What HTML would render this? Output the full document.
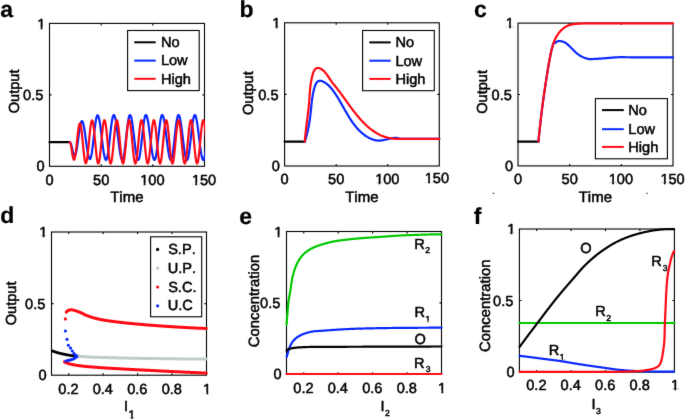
<!DOCTYPE html>
<html><head><meta charset="utf-8"><style>
html,body{margin:0;padding:0;background:#fff;}
svg{display:block;}
text{font-family:"Liberation Sans", sans-serif;font-kerning:none;text-rendering:geometricPrecision;}
</style></head><body>
<svg width="685" height="419" viewBox="0 0 685 419">
<defs><filter id="bl" x="0" y="0" width="685" height="419" filterUnits="userSpaceOnUse" color-interpolation-filters="sRGB"><feConvolveMatrix order="3" kernelMatrix="0.0064 0.0672 0.0064 0.0672 0.7056 0.0672 0.0064 0.0672 0.0064" edgeMode="duplicate"/></filter></defs>
<rect width="685" height="419" fill="#fff"/>
<g filter="url(#bl)">
<text x="0.13" y="17.2" font-size="23" font-weight="bold" fill="#000" stroke="#000" stroke-width="0.2" stroke-linejoin="round">a</text>
<text x="239.38" y="17.3" font-size="23" font-weight="bold" fill="#000" stroke="#000" stroke-width="0.2" stroke-linejoin="round">b</text>
<text x="473.9" y="17.3" font-size="23" font-weight="bold" fill="#000" stroke="#000" stroke-width="0.2" stroke-linejoin="round">c</text>
<text x="0.17" y="223.4" font-size="23" font-weight="bold" fill="#000" stroke="#000" stroke-width="0.2" stroke-linejoin="round">d</text>
<text x="239.3" y="223.7" font-size="23" font-weight="bold" fill="#000" stroke="#000" stroke-width="0.2" stroke-linejoin="round">e</text>
<text x="473.71" y="223.5" font-size="23" font-weight="bold" fill="#000" stroke="#000" stroke-width="0.2" stroke-linejoin="round">f</text>
<rect x="49.5" y="23.4" width="155" height="142.9" fill="none" stroke="#000" stroke-width="1.1"/>
<path d="M101.17 166.3v-2M101.17 23.4v2M152.83 166.3v-2M152.83 23.4v2M49.5 94.85h2M204.5 94.85h-2" stroke="#000" stroke-width="1.1" fill="none"/>
<text x="45.44" y="184.5" font-size="14.6" fill="#000" stroke="#000" stroke-width="0.5" stroke-linejoin="round">0</text>
<text x="93.04" y="184.5" font-size="14.6" fill="#000" stroke="#000" stroke-width="0.5" stroke-linejoin="round">50</text>
<mask id="m1" maskUnits="userSpaceOnUse" x="0" y="0" width="685" height="419"><rect width="685" height="419" fill="#fff"/><g fill="#000"><rect x="140.88" y="183.02" width="2.75" height="3.13"/><rect x="145.48" y="183.02" width="2.6" height="3.13"/></g></mask>
<text x="140.24" y="184.5" font-size="14.6" fill="#000" stroke="#000" stroke-width="0.5" stroke-linejoin="round" mask="url(#m1)">100</text>
<mask id="m2" maskUnits="userSpaceOnUse" x="0" y="0" width="685" height="419"><rect width="685" height="419" fill="#fff"/><g fill="#000"><rect x="192.54" y="183.02" width="2.75" height="3.13"/><rect x="197.14" y="183.02" width="2.6" height="3.13"/></g></mask>
<text x="191.9" y="184.5" font-size="14.6" fill="#000" stroke="#000" stroke-width="0.5" stroke-linejoin="round" mask="url(#m2)">150</text>
<mask id="m3" maskUnits="userSpaceOnUse" x="0" y="0" width="685" height="419"><rect width="685" height="419" fill="#fff"/><g fill="#000"><rect x="37.88" y="27.02" width="2.75" height="3.13"/><rect x="42.48" y="27.02" width="2.6" height="3.13"/></g></mask>
<text x="37.24" y="28.5" font-size="14.6" fill="#000" stroke="#000" stroke-width="0.5" stroke-linejoin="round" mask="url(#m3)">1</text>
<text x="23.12" y="99.95" font-size="14.6" fill="#000" stroke="#000" stroke-width="0.5" stroke-linejoin="round">0.5</text>
<text x="36.55" y="171.4" font-size="14.6" fill="#000" stroke="#000" stroke-width="0.5" stroke-linejoin="round">0</text>
<text x="110.2" y="202.2" font-size="15" fill="#000" stroke="#000" stroke-width="0.5" stroke-linejoin="round">Time</text>
<text x="-3.51" y="91.1" font-size="14.6" fill="#000" stroke="#000" stroke-width="0.5" stroke-linejoin="round" transform="rotate(-90 18.7 91.1)">Output</text>
<path d="M49.5 142.2 L69.8 142.2" fill="none" stroke="#000" stroke-width="2.2" stroke-linejoin="round" stroke-linecap="round"/>
<clipPath id="ca"><rect x="49.5" y="0" width="155.6" height="419"/></clipPath>
<g clip-path="url(#ca)">
<path d="M69.8 142.2 L70.3 142.54 L70.8 143.54 L71.3 145.09 L71.8 147.03 L72.3 149.17 L72.8 151.28 L73.3 153.16 L73.8 154.61 L74.3 155.48 L74.7 155.7 L75.2 155.29 L75.7 154.08 L76.2 152.13 L76.7 149.52 L77.2 146.39 L77.7 142.88 L78.2 139.15 L78.7 135.4 L79.2 131.78 L79.7 128.48 L80.2 125.65 L80.7 123.42 L81.2 121.9 L81.7 121.17 L81.9 121.1 L82.4 121.47 L82.9 122.55 L83.4 124.3 L83.9 126.66 L84.4 129.54 L84.9 132.83 L85.4 136.39 L85.9 140.1 L86.4 143.81 L86.9 147.37 L87.4 150.66 L87.9 153.54 L88.4 155.9 L88.9 157.65 L89.4 158.73 L89.9 159.1 L90.4 158.65 L90.9 157.3 L91.4 155.13 L91.9 152.2 L92.4 148.66 L92.9 144.64 L93.4 140.32 L93.9 135.86 L94.4 131.46 L94.9 127.3 L95.4 123.55 L95.9 120.36 L96.4 117.87 L96.9 116.19 L97.4 115.37 L97.6 115.3 L98.1 115.69 L98.6 116.84 L99.1 118.73 L99.6 121.27 L100.1 124.38 L100.6 127.95 L101.1 131.87 L101.6 135.98 L102.1 140.15 L102.6 144.24 L103.1 148.09 L103.6 151.58 L104.1 154.59 L104.6 157.01 L105.1 158.75 L105.6 159.75 L106 160 L106.5 159.55 L107 158.2 L107.5 156.02 L108 153.09 L108.5 149.53 L109 145.48 L109.5 141.11 L110 136.59 L110.5 132.12 L111 127.85 L111.5 123.98 L112 120.66 L112.5 118.01 L113 116.16 L113.5 115.16 L113.8 115 L114.3 115.38 L114.8 116.52 L115.3 118.37 L115.8 120.87 L116.3 123.94 L116.8 127.47 L117.3 131.34 L117.8 135.42 L118.3 139.58 L118.8 143.66 L119.3 147.53 L119.8 151.06 L120.3 154.13 L120.8 156.63 L121.3 158.48 L121.8 159.62 L122.3 160 L122.8 159.53 L123.3 158.15 L123.8 155.92 L124.3 152.92 L124.8 149.28 L125.3 145.15 L125.8 140.7 L126.3 136.12 L126.8 131.6 L127.3 127.33 L127.8 123.47 L128.3 120.2 L128.8 117.64 L129.3 115.91 L129.8 115.07 L130 115 L130.5 115.41 L131 116.63 L131.5 118.61 L132 121.29 L132.5 124.56 L133 128.3 L133.5 132.37 L134 136.64 L134.5 140.93 L135 145.11 L135.5 149 L136 152.47 L136.5 155.39 L137 157.66 L137.5 159.2 L138 159.93 L138.2 160 L138.7 159.53 L139.2 158.15 L139.7 155.92 L140.2 152.92 L140.7 149.28 L141.2 145.15 L141.7 140.7 L142.2 136.12 L142.7 131.6 L143.2 127.33 L143.7 123.47 L144.2 120.2 L144.7 117.64 L145.2 115.91 L145.7 115.07 L145.9 115 L146.4 115.37 L146.9 116.48 L147.4 118.29 L147.9 120.74 L148.4 123.75 L148.9 127.21 L149.4 131.02 L149.9 135.04 L150.4 139.14 L150.9 143.19 L151.4 147.05 L151.9 150.59 L152.4 153.7 L152.9 156.26 L153.4 158.21 L153.9 159.46 L154.4 159.98 L154.5 160 L155 159.53 L155.5 158.15 L156 155.92 L156.5 152.92 L157 149.28 L157.5 145.15 L158 140.7 L158.5 136.12 L159 131.6 L159.5 127.33 L160 123.47 L160.5 120.2 L161 117.64 L161.5 115.91 L162 115.07 L162.2 115 L162.7 115.37 L163.2 116.48 L163.7 118.29 L164.2 120.74 L164.7 123.75 L165.2 127.21 L165.7 131.02 L166.2 135.04 L166.7 139.14 L167.2 143.19 L167.7 147.05 L168.2 150.59 L168.7 153.7 L169.2 156.26 L169.7 158.21 L170.2 159.46 L170.7 159.98 L170.8 160 L171.3 159.53 L171.8 158.15 L172.3 155.92 L172.8 152.92 L173.3 149.28 L173.8 145.15 L174.3 140.7 L174.8 136.12 L175.3 131.6 L175.8 127.33 L176.3 123.47 L176.8 120.2 L177.3 117.64 L177.8 115.91 L178.3 115.07 L178.5 115 L179 115.38 L179.5 116.52 L180 118.37 L180.5 120.87 L181 123.94 L181.5 127.47 L182 131.34 L182.5 135.42 L183 139.58 L183.5 143.66 L184 147.53 L184.5 151.06 L185 154.13 L185.5 156.63 L186 158.48 L186.5 159.62 L187 160 L187.5 159.55 L188 158.2 L188.5 156.02 L189 153.09 L189.5 149.53 L190 145.48 L190.5 141.11 L191 136.59 L191.5 132.12 L192 127.85 L192.5 123.98 L193 120.66 L193.5 118.01 L194 116.16 L194.5 115.16 L194.8 115 L195.3 115.38 L195.8 116.52 L196.3 118.37 L196.8 120.87 L197.3 123.94 L197.8 127.47 L198.3 131.34 L198.8 135.42 L199.3 139.58 L199.8 143.66 L200.3 147.53 L200.8 151.06 L201.3 154.13 L201.8 156.63 L202.3 158.48 L202.8 159.62 L203.3 160 L203.8 159.58 L204.3 158.33 L204.8 156.3 L205.3 153.56 L205.8 150.23 L206.3 146.41 L206.8 142.26 L207.3 137.94 L207.8 133.59 L208.3 129.4 L208.8 125.5 L209.3 122.06 L209.8 119.2 L210.3 117.02 L210.8 115.61 L211.3 115.02 L211.4 115" fill="none" stroke="#0a28ff" stroke-width="2.2" stroke-linejoin="round" stroke-linecap="round"/>
<path d="M69.8 142.2 L70.3 142.81 L70.8 144.55 L71.3 147.18 L71.8 150.34 L72.3 153.59 L72.8 156.49 L73.3 158.62 L73.8 159.7 L74 159.8 L74.5 159.16 L75 157.28 L75.5 154.3 L76 150.42 L76.5 145.92 L77 141.12 L77.5 136.35 L78 131.95 L78.5 128.23 L79 125.45 L79.5 123.81 L79.9 123.4 L80.4 124.1 L80.9 126.16 L81.4 129.43 L81.9 133.68 L82.4 138.62 L82.9 143.88 L83.4 149.11 L83.9 153.93 L84.4 158.01 L84.9 161.05 L85.4 162.85 L85.8 163.3 L86.3 162.64 L86.8 160.69 L87.3 157.57 L87.8 153.49 L88.3 148.68 L88.8 143.45 L89.3 138.13 L89.8 133.03 L90.3 128.48 L90.8 124.75 L91.3 122.08 L91.8 120.64 L92.1 120.4 L92.6 121.09 L93.1 123.13 L93.6 126.37 L94.1 130.62 L94.6 135.59 L95.1 140.98 L95.6 146.42 L96.1 151.58 L96.6 156.12 L97.1 159.75 L97.6 162.23 L98.1 163.41 L98.28 163.5 L98.78 162.8 L99.28 160.76 L99.78 157.5 L100.28 153.24 L100.78 148.24 L101.28 142.83 L101.78 137.36 L102.28 132.17 L102.78 127.61 L103.28 123.97 L103.78 121.47 L104.28 120.29 L104.46 120.2 L104.96 120.9 L105.46 122.94 L105.96 126.2 L106.46 130.46 L106.96 135.46 L107.46 140.87 L107.96 146.34 L108.46 151.53 L108.96 156.09 L109.46 159.73 L109.96 162.23 L110.46 163.41 L110.63 163.5 L111.13 162.8 L111.63 160.76 L112.13 157.5 L112.63 153.24 L113.13 148.24 L113.63 142.83 L114.13 137.36 L114.63 132.17 L115.13 127.61 L115.63 123.97 L116.13 121.47 L116.63 120.29 L116.81 120.2 L117.31 120.9 L117.81 122.94 L118.31 126.2 L118.81 130.46 L119.31 135.46 L119.81 140.87 L120.31 146.34 L120.81 151.53 L121.31 156.09 L121.81 159.73 L122.31 162.23 L122.81 163.41 L122.99 163.5 L123.49 162.8 L123.99 160.76 L124.49 157.5 L124.99 153.24 L125.49 148.24 L125.99 142.83 L126.49 137.36 L126.99 132.17 L127.49 127.61 L127.99 123.97 L128.49 121.47 L128.99 120.29 L129.17 120.2 L129.67 120.9 L130.17 122.94 L130.67 126.2 L131.17 130.46 L131.67 135.46 L132.17 140.87 L132.67 146.34 L133.17 151.53 L133.67 156.09 L134.17 159.73 L134.67 162.23 L135.17 163.41 L135.34 163.5 L135.84 162.8 L136.34 160.76 L136.84 157.5 L137.34 153.24 L137.84 148.24 L138.34 142.83 L138.84 137.36 L139.34 132.17 L139.84 127.61 L140.34 123.97 L140.84 121.47 L141.34 120.29 L141.52 120.2 L142.02 120.9 L142.52 122.94 L143.02 126.2 L143.52 130.46 L144.02 135.46 L144.52 140.87 L145.02 146.34 L145.52 151.53 L146.02 156.09 L146.52 159.73 L147.02 162.23 L147.52 163.41 L147.7 163.5 L148.2 162.8 L148.7 160.76 L149.2 157.5 L149.7 153.24 L150.2 148.24 L150.7 142.83 L151.2 137.36 L151.7 132.17 L152.2 127.61 L152.7 123.97 L153.2 121.47 L153.7 120.29 L153.88 120.2 L154.38 120.9 L154.88 122.94 L155.38 126.2 L155.88 130.46 L156.38 135.46 L156.88 140.87 L157.38 146.34 L157.88 151.53 L158.38 156.09 L158.88 159.73 L159.38 162.23 L159.88 163.41 L160.06 163.5 L160.56 162.8 L161.06 160.76 L161.56 157.5 L162.06 153.24 L162.56 148.24 L163.06 142.83 L163.56 137.36 L164.06 132.17 L164.56 127.61 L165.06 123.97 L165.56 121.47 L166.06 120.29 L166.23 120.2 L166.73 120.9 L167.23 122.94 L167.73 126.2 L168.23 130.46 L168.73 135.46 L169.23 140.87 L169.73 146.34 L170.23 151.53 L170.73 156.09 L171.23 159.73 L171.73 162.23 L172.23 163.41 L172.41 163.5 L172.91 162.8 L173.41 160.76 L173.91 157.5 L174.41 153.24 L174.91 148.24 L175.41 142.83 L175.91 137.36 L176.41 132.17 L176.91 127.61 L177.41 123.97 L177.91 121.47 L178.41 120.29 L178.59 120.2 L179.09 120.9 L179.59 122.94 L180.09 126.2 L180.59 130.46 L181.09 135.46 L181.59 140.87 L182.09 146.34 L182.59 151.53 L183.09 156.09 L183.59 159.73 L184.09 162.23 L184.59 163.41 L184.77 163.5 L185.27 162.8 L185.77 160.76 L186.27 157.5 L186.77 153.24 L187.27 148.24 L187.77 142.83 L188.27 137.36 L188.77 132.17 L189.27 127.61 L189.77 123.97 L190.27 121.47 L190.77 120.29 L190.94 120.2 L191.44 120.9 L191.94 122.94 L192.44 126.2 L192.94 130.46 L193.44 135.46 L193.94 140.87 L194.44 146.34 L194.94 151.53 L195.44 156.09 L195.94 159.73 L196.44 162.23 L196.94 163.41 L197.12 163.5 L197.62 162.8 L198.12 160.76 L198.62 157.5 L199.12 153.24 L199.62 148.24 L200.12 142.83 L200.62 137.36 L201.12 132.17 L201.62 127.61 L202.12 123.97 L202.62 121.47 L203.12 120.29 L203.3 120.2 L203.8 120.9 L204.3 122.94 L204.8 126.2 L205.3 130.46 L205.8 135.46 L206.3 140.87 L206.8 146.34 L207.3 151.53 L207.8 156.09 L208.3 159.73 L208.8 162.23 L209.3 163.41 L209.48 163.5" fill="none" stroke="#ff0a14" stroke-width="2.2" stroke-linejoin="round" stroke-linecap="round"/>
</g>
<rect x="127.6" y="30.5" width="71.6" height="60.1" fill="#fff" stroke="#000" stroke-width="1.1"/>
<path d="M134.3 42.3H155.7" stroke="#000" stroke-width="2.0"/>
<text x="160.9" y="47.1" font-size="14.6" fill="#000" stroke="#000" stroke-width="0.5" stroke-linejoin="round">No</text>
<path d="M134.3 60.6H155.7" stroke="#0a28ff" stroke-width="2.0"/>
<text x="160.9" y="65.4" font-size="14.6" fill="#000" stroke="#000" stroke-width="0.5" stroke-linejoin="round">Low</text>
<path d="M134.3 78.8H155.7" stroke="#ff0a14" stroke-width="2.0"/>
<text x="160.9" y="83.6" font-size="14.6" fill="#000" stroke="#000" stroke-width="0.5" stroke-linejoin="round">High</text>
<rect x="284.6" y="22.8" width="154.7" height="143.2" fill="none" stroke="#000" stroke-width="1.1"/>
<path d="M336.17 166v-2M336.17 22.8v2M387.73 166v-2M387.73 22.8v2M284.6 94.4h2M439.3 94.4h-2" stroke="#000" stroke-width="1.1" fill="none"/>
<text x="280.54" y="184.2" font-size="14.6" fill="#000" stroke="#000" stroke-width="0.5" stroke-linejoin="round">0</text>
<text x="328.04" y="184.2" font-size="14.6" fill="#000" stroke="#000" stroke-width="0.5" stroke-linejoin="round">50</text>
<mask id="m4" maskUnits="userSpaceOnUse" x="0" y="0" width="685" height="419"><rect width="685" height="419" fill="#fff"/><g fill="#000"><rect x="375.78" y="182.72" width="2.75" height="3.13"/><rect x="380.38" y="182.72" width="2.6" height="3.13"/></g></mask>
<text x="375.14" y="184.2" font-size="14.6" fill="#000" stroke="#000" stroke-width="0.5" stroke-linejoin="round" mask="url(#m4)">100</text>
<mask id="m5" maskUnits="userSpaceOnUse" x="0" y="0" width="685" height="419"><rect width="685" height="419" fill="#fff"/><g fill="#000"><rect x="425.34" y="181.02" width="2.75" height="3.13"/><rect x="429.94" y="181.02" width="2.6" height="3.13"/></g></mask>
<text x="424.7" y="182.5" font-size="14.6" fill="#000" stroke="#000" stroke-width="0.5" stroke-linejoin="round" mask="url(#m5)">150</text>
<mask id="m6" maskUnits="userSpaceOnUse" x="0" y="0" width="685" height="419"><rect width="685" height="419" fill="#fff"/><g fill="#000"><rect x="272.98" y="26.42" width="2.75" height="3.13"/><rect x="277.58" y="26.42" width="2.6" height="3.13"/></g></mask>
<text x="272.34" y="27.9" font-size="14.6" fill="#000" stroke="#000" stroke-width="0.5" stroke-linejoin="round" mask="url(#m6)">1</text>
<text x="258.22" y="99.5" font-size="14.6" fill="#000" stroke="#000" stroke-width="0.5" stroke-linejoin="round">0.5</text>
<text x="271.65" y="171.1" font-size="14.6" fill="#000" stroke="#000" stroke-width="0.5" stroke-linejoin="round">0</text>
<text x="345.15" y="201.9" font-size="15" fill="#000" stroke="#000" stroke-width="0.5" stroke-linejoin="round">Time</text>
<text x="230.79" y="92.85" font-size="14.6" fill="#000" stroke="#000" stroke-width="0.5" stroke-linejoin="round" transform="rotate(-90 253 92.85)">Output</text>
<path d="M284.6 141.6 L305 141.6" fill="none" stroke="#000" stroke-width="2.2" stroke-linejoin="round" stroke-linecap="round"/>
<path d="M304.8 141.6 L304.93 141.2 L305.07 140.8 L305.2 140.4 L305.33 140 L305.46 139.59 L305.58 139.19 L305.71 138.78 L305.83 138.37 L305.95 137.96 L306.07 137.54 L306.19 137.13 L306.31 136.72 L306.42 136.3 L306.53 135.88 L306.65 135.46 L306.76 135.04 L306.86 134.62 L306.97 134.2 L307.08 133.78 L307.18 133.35 L307.29 132.93 L307.39 132.5 L307.49 132.07 L307.59 131.65 L307.68 131.22 L307.78 130.79 L307.87 130.36 L307.97 129.93 L308.06 129.49 L308.15 129.06 L308.24 128.63 L308.32 128.2 L308.41 127.76 L308.5 127.33 L308.58 126.89 L308.66 126.46 L308.74 126.02 L308.82 125.59 L308.9 125.15 L308.98 124.72 L309.05 124.28 L309.13 123.84 L309.2 123.41 L309.27 122.97 L309.34 122.54 L309.41 122.1 L309.48 121.66 L309.55 121.23 L309.62 120.79 L309.68 120.36 L309.75 119.92 L309.81 119.48 L309.87 119.05 L309.93 118.62 L309.99 118.18 L310.05 117.75 L310.11 117.31 L310.16 116.88 L310.22 116.45 L310.27 116.02 L310.32 115.59 L310.38 115.16 L310.43 114.73 L310.48 114.3 L310.53 113.87 L310.57 113.45 L310.62 113.02 L310.67 112.59 L310.71 112.17 L310.76 111.75 L310.8 111.33 L310.84 110.9 L310.88 110.48 L310.93 110.07 L310.97 109.65 L311.01 109.23 L311.05 108.81 L311.09 108.39 L311.13 107.98 L311.17 107.56 L311.21 107.14 L311.25 106.73 L311.29 106.31 L311.33 105.9 L311.37 105.48 L311.41 105.06 L311.45 104.65 L311.49 104.23 L311.53 103.81 L311.58 103.4 L311.62 102.98 L311.67 102.56 L311.72 102.14 L311.76 101.72 L311.81 101.3 L311.86 100.88 L311.92 100.45 L311.97 100.03 L312.03 99.6 L312.08 99.18 L312.14 98.75 L312.21 98.32 L312.27 97.89 L312.33 97.45 L312.4 97.02 L312.47 96.58 L312.55 96.15 L312.62 95.71 L312.7 95.27 L312.78 94.82 L312.86 94.38 L312.95 93.93 L313.04 93.48 L313.13 93.02 L313.23 92.57 L313.32 92.11 L313.43 91.65 L313.53 91.19 L313.64 90.72 L313.75 90.25 L313.87 89.78 L313.99 89.31 L314.11 88.83 L314.24 88.35 L314.38 87.88 L314.52 87.4 L314.66 86.93 L314.81 86.47 L314.97 86.01 L315.14 85.57 L315.31 85.13 L315.49 84.7 L315.68 84.29 L315.88 83.89 L316.09 83.51 L316.31 83.15 L316.53 82.81 L316.77 82.49 L317.02 82.19 L317.28 81.91 L317.56 81.67 L317.84 81.45 L318.14 81.25 L318.45 81.09 L318.78 80.96 L319.12 80.87 L319.47 80.8 L319.82 80.76 L320.19 80.76 L320.56 80.79 L320.93 80.85 L321.31 80.93 L321.69 81.04 L322.08 81.18 L322.46 81.32 L322.84 81.49 L323.21 81.66 L323.58 81.85 L323.95 82.04 L324.31 82.24 L324.67 82.45 L325.02 82.67 L325.37 82.89 L325.71 83.12 L326.05 83.36 L326.39 83.6 L326.72 83.86 L327.05 84.12 L327.37 84.38 L327.69 84.65 L328.01 84.93 L328.32 85.21 L328.63 85.5 L328.94 85.8 L329.24 86.1 L329.54 86.4 L329.84 86.71 L330.13 87.03 L330.42 87.35 L330.71 87.67 L330.99 88 L331.27 88.33 L331.55 88.66 L331.83 89 L332.1 89.35 L332.37 89.69 L332.64 90.04 L332.91 90.39 L333.17 90.75 L333.43 91.11 L333.69 91.46 L333.95 91.83 L334.2 92.19 L334.46 92.55 L334.71 92.92 L334.96 93.29 L335.21 93.66 L335.45 94.03 L335.7 94.4 L335.94 94.77 L336.18 95.15 L336.43 95.52 L336.67 95.9 L336.9 96.27 L337.14 96.65 L337.38 97.03 L337.61 97.41 L337.84 97.79 L338.08 98.17 L338.31 98.55 L338.54 98.93 L338.76 99.31 L338.99 99.69 L339.22 100.07 L339.45 100.46 L339.67 100.84 L339.9 101.23 L340.12 101.61 L340.34 102 L340.56 102.38 L340.79 102.77 L341.01 103.15 L341.23 103.54 L341.45 103.92 L341.67 104.31 L341.89 104.7 L342.11 105.08 L342.32 105.47 L342.54 105.86 L342.76 106.24 L342.98 106.63 L343.2 107.02 L343.41 107.4 L343.63 107.79 L343.85 108.17 L344.06 108.56 L344.28 108.94 L344.5 109.33 L344.72 109.71 L344.93 110.1 L345.15 110.48 L345.37 110.86 L345.59 111.25 L345.81 111.63 L346.03 112.01 L346.25 112.39 L346.47 112.77 L346.69 113.15 L346.91 113.53 L347.13 113.91 L347.35 114.29 L347.57 114.66 L347.8 115.04 L348.02 115.41 L348.25 115.79 L348.47 116.16 L348.7 116.53 L348.93 116.9 L349.16 117.27 L349.39 117.64 L349.62 118.01 L349.85 118.38 L350.08 118.74 L350.32 119.11 L350.55 119.47 L350.79 119.83 L351.03 120.19 L351.27 120.55 L351.51 120.91 L351.75 121.26 L351.99 121.62 L352.24 121.97 L352.48 122.32 L352.73 122.67 L352.98 123.02 L353.23 123.37 L353.48 123.71 L353.74 124.06 L354 124.4 L354.25 124.74 L354.52 125.08 L354.78 125.41 L355.04 125.75 L355.31 126.08 L355.58 126.41 L355.85 126.74 L356.12 127.06 L356.39 127.39 L356.67 127.71 L356.95 128.03 L357.23 128.35 L357.51 128.66 L357.8 128.98 L358.09 129.29 L358.38 129.6 L358.67 129.9 L358.97 130.21 L359.27 130.51 L359.57 130.81 L359.87 131.11 L360.18 131.4 L360.49 131.69 L360.8 131.98 L361.12 132.27 L361.43 132.55 L361.75 132.83 L362.08 133.11 L362.41 133.39 L362.73 133.66 L363.07 133.93 L363.4 134.2 L363.74 134.46 L364.09 134.72 L364.43 134.98 L364.78 135.23 L365.13 135.48 L365.49 135.73 L365.84 135.98 L366.2 136.22 L366.57 136.45 L366.93 136.68 L367.3 136.91 L367.68 137.13 L368.05 137.35 L368.43 137.56 L368.81 137.76 L369.19 137.96 L369.58 138.16 L369.96 138.35 L370.35 138.53 L370.75 138.7 L371.14 138.87 L371.54 139.04 L371.94 139.19 L372.34 139.34 L372.74 139.48 L373.15 139.61 L373.56 139.74 L373.97 139.86 L374.38 139.97 L374.79 140.07 L375.21 140.16 L375.63 140.24 L376.05 140.32 L376.47 140.38 L376.89 140.44 L377.32 140.49 L377.74 140.52 L378.17 140.55 L378.6 140.57 L379.03 140.58 L379.46 140.57 L379.9 140.56 L380.33 140.53 L380.77 140.5 L381.21 140.45 L381.65 140.4 L382.08 140.34 L382.53 140.27 L382.97 140.2 L383.41 140.12 L383.85 140.03 L384.3 139.94 L384.74 139.84 L385.18 139.74 L385.63 139.64 L386.07 139.53 L386.52 139.43 L386.96 139.32 L387.41 139.21 L387.86 139.1 L388.3 138.99 L388.75 138.89 L389.19 138.79 L389.64 138.68 L390.08 138.59 L390.52 138.49 L390.97 138.4 L391.41 138.32 L391.85 138.24 L392.29 138.17 L392.73 138.11 L393.17 138.05 L393.61 138.01 L394.05 137.97 L394.48 137.94 L394.92 137.92 L395.35 137.91 L395.78 137.92 L396.21 137.94 L396.64 137.97 L397.07 138.01 L397.49 138.07 L397.91 138.14 L398.34 138.23 L398.76 138.33 L399.17 138.45 L399.59 138.59 L400 138.75 L439.3 138.8" fill="none" stroke="#0a28ff" stroke-width="2.2" stroke-linejoin="round" stroke-linecap="round"/>
<path d="M304.8 141.6 L304.83 141.13 L304.86 140.65 L304.89 140.18 L304.93 139.7 L304.96 139.23 L305 138.75 L305.04 138.28 L305.08 137.8 L305.12 137.32 L305.16 136.85 L305.2 136.37 L305.24 135.9 L305.29 135.42 L305.34 134.95 L305.38 134.47 L305.43 134 L305.48 133.52 L305.53 133.05 L305.58 132.57 L305.63 132.1 L305.68 131.62 L305.74 131.15 L305.79 130.67 L305.85 130.2 L305.9 129.72 L305.96 129.24 L306.01 128.77 L306.07 128.29 L306.13 127.82 L306.19 127.34 L306.25 126.87 L306.31 126.39 L306.37 125.92 L306.43 125.44 L306.49 124.97 L306.55 124.49 L306.61 124.02 L306.67 123.54 L306.73 123.07 L306.79 122.59 L306.85 122.12 L306.92 121.64 L306.98 121.17 L307.04 120.69 L307.1 120.22 L307.16 119.74 L307.22 119.27 L307.29 118.79 L307.35 118.32 L307.41 117.84 L307.47 117.37 L307.53 116.89 L307.59 116.42 L307.65 115.94 L307.71 115.47 L307.77 114.99 L307.83 114.52 L307.89 114.04 L307.95 113.57 L308.01 113.1 L308.06 112.62 L308.12 112.15 L308.18 111.67 L308.23 111.2 L308.29 110.73 L308.34 110.25 L308.39 109.78 L308.44 109.3 L308.5 108.83 L308.55 108.36 L308.6 107.88 L308.65 107.41 L308.69 106.94 L308.74 106.46 L308.79 105.99 L308.83 105.52 L308.87 105.04 L308.92 104.57 L308.96 104.1 L309 103.62 L309.04 103.15 L309.08 102.68 L309.11 102.21 L309.15 101.73 L309.18 101.26 L309.22 100.79 L309.25 100.32 L309.29 99.84 L309.32 99.37 L309.35 98.9 L309.39 98.43 L309.42 97.95 L309.45 97.48 L309.48 97.01 L309.52 96.53 L309.55 96.06 L309.58 95.59 L309.62 95.11 L309.65 94.64 L309.68 94.17 L309.72 93.69 L309.76 93.22 L309.79 92.74 L309.83 92.27 L309.87 91.79 L309.91 91.32 L309.95 90.84 L309.99 90.36 L310.04 89.89 L310.08 89.41 L310.13 88.93 L310.18 88.46 L310.23 87.98 L310.28 87.5 L310.34 87.02 L310.39 86.54 L310.45 86.06 L310.51 85.58 L310.58 85.1 L310.64 84.62 L310.71 84.14 L310.78 83.66 L310.85 83.17 L310.93 82.69 L311.01 82.21 L311.09 81.72 L311.17 81.24 L311.26 80.75 L311.35 80.27 L311.45 79.78 L311.55 79.29 L311.65 78.8 L311.75 78.31 L311.86 77.82 L311.97 77.33 L312.09 76.84 L312.21 76.35 L312.33 75.86 L312.46 75.37 L312.59 74.87 L312.73 74.38 L312.88 73.9 L313.03 73.42 L313.18 72.95 L313.35 72.49 L313.52 72.04 L313.7 71.61 L313.89 71.19 L314.09 70.78 L314.3 70.4 L314.52 70.04 L314.75 69.7 L315 69.39 L315.25 69.1 L315.52 68.84 L315.81 68.61 L316.11 68.42 L316.42 68.26 L316.75 68.13 L317.09 68.05 L317.45 67.99 L317.82 67.98 L318.21 68 L318.6 68.05 L319 68.14 L319.41 68.25 L319.82 68.39 L320.23 68.56 L320.64 68.75 L321.05 68.96 L321.46 69.2 L321.87 69.46 L322.27 69.73 L322.66 70.02 L323.04 70.33 L323.41 70.65 L323.78 70.99 L324.14 71.34 L324.49 71.7 L324.84 72.08 L325.18 72.46 L325.51 72.86 L325.84 73.26 L326.17 73.67 L326.49 74.09 L326.8 74.52 L327.11 74.94 L327.42 75.38 L327.72 75.82 L328.02 76.25 L328.32 76.7 L328.61 77.14 L328.9 77.58 L329.19 78.02 L329.47 78.46 L329.75 78.89 L330.04 79.32 L330.32 79.75 L330.6 80.17 L330.88 80.58 L331.16 80.99 L331.43 81.38 L331.71 81.77 L331.99 82.15 L332.27 82.53 L332.55 82.9 L332.83 83.26 L333.11 83.62 L333.39 83.97 L333.66 84.32 L333.94 84.66 L334.22 85.01 L334.5 85.35 L334.78 85.69 L335.05 86.03 L335.33 86.37 L335.61 86.72 L335.89 87.06 L336.17 87.41 L336.44 87.75 L336.72 88.1 L337 88.46 L337.28 88.81 L337.55 89.17 L337.83 89.52 L338.11 89.88 L338.38 90.25 L338.66 90.61 L338.94 90.98 L339.21 91.34 L339.49 91.71 L339.77 92.08 L340.05 92.45 L340.32 92.83 L340.6 93.2 L340.88 93.58 L341.16 93.96 L341.43 94.34 L341.71 94.72 L341.99 95.1 L342.27 95.48 L342.55 95.86 L342.83 96.25 L343.11 96.64 L343.39 97.02 L343.67 97.41 L343.95 97.8 L344.23 98.19 L344.51 98.58 L344.79 98.97 L345.07 99.36 L345.35 99.76 L345.64 100.15 L345.92 100.54 L346.2 100.94 L346.49 101.33 L346.77 101.73 L347.05 102.12 L347.34 102.52 L347.63 102.92 L347.91 103.31 L348.2 103.71 L348.49 104.11 L348.77 104.5 L349.06 104.9 L349.35 105.3 L349.64 105.69 L349.93 106.09 L350.22 106.49 L350.52 106.88 L350.81 107.28 L351.1 107.68 L351.4 108.07 L351.69 108.47 L351.99 108.86 L352.28 109.26 L352.58 109.65 L352.88 110.04 L353.18 110.43 L353.48 110.83 L353.78 111.22 L354.08 111.61 L354.38 112 L354.69 112.39 L354.99 112.77 L355.3 113.16 L355.6 113.55 L355.91 113.93 L356.22 114.31 L356.53 114.7 L356.84 115.08 L357.15 115.46 L357.46 115.83 L357.78 116.21 L358.09 116.59 L358.41 116.96 L358.72 117.33 L359.04 117.71 L359.36 118.08 L359.68 118.44 L360 118.81 L360.33 119.17 L360.65 119.54 L360.97 119.9 L361.3 120.26 L361.63 120.61 L361.96 120.97 L362.29 121.32 L362.62 121.67 L362.95 122.02 L363.29 122.37 L363.62 122.71 L363.96 123.06 L364.3 123.4 L364.64 123.73 L364.98 124.07 L365.33 124.4 L365.67 124.73 L366.02 125.06 L366.36 125.38 L366.71 125.71 L367.06 126.03 L367.42 126.34 L367.77 126.66 L368.12 126.97 L368.48 127.28 L368.84 127.58 L369.2 127.88 L369.56 128.18 L369.93 128.48 L370.29 128.77 L370.66 129.06 L371.03 129.35 L371.4 129.63 L371.77 129.91 L372.14 130.19 L372.52 130.46 L372.9 130.73 L373.28 131 L373.66 131.26 L374.04 131.52 L374.43 131.78 L374.81 132.03 L375.2 132.28 L375.59 132.52 L375.99 132.76 L376.38 133 L376.78 133.23 L377.18 133.46 L377.58 133.69 L377.98 133.91 L378.38 134.12 L378.79 134.34 L379.2 134.54 L379.61 134.75 L380.02 134.95 L380.44 135.14 L380.85 135.33 L381.27 135.52 L381.7 135.7 L382.12 135.88 L382.55 136.05 L382.97 136.22 L383.4 136.38 L383.84 136.54 L384.27 136.69 L384.71 136.84 L385.15 136.99 L385.59 137.13 L386.03 137.26 L386.48 137.39 L386.93 137.51 L387.38 137.63 L387.83 137.74 L388.29 137.85 L388.75 137.95 L389.21 138.05 L389.67 138.14 L390.14 138.23 L390.61 138.31 L391.08 138.39 L391.55 138.46 L392.03 138.52 L392.51 138.58 L392.99 138.63 L393.47 138.68 L393.96 138.72 L394.45 138.76 L394.94 138.79 L395.43 138.81 L395.93 138.83 L396.43 138.84 L396.93 138.85 L397.43 138.85 L397.94 138.84 L398.45 138.83 L398.97 138.81 L399.48 138.78 L400 138.75 L439.3 138.8" fill="none" stroke="#ff0a14" stroke-width="2.2" stroke-linejoin="round" stroke-linecap="round"/>
<rect x="362.6" y="30.5" width="71.7" height="60.2" fill="#fff" stroke="#000" stroke-width="1.1"/>
<path d="M369.3 42.4H390.7" stroke="#000" stroke-width="2.0"/>
<text x="395.4" y="47.2" font-size="14.6" fill="#000" stroke="#000" stroke-width="0.5" stroke-linejoin="round">No</text>
<path d="M369.3 60.7H390.7" stroke="#0a28ff" stroke-width="2.0"/>
<text x="395.4" y="65.5" font-size="14.6" fill="#000" stroke="#000" stroke-width="0.5" stroke-linejoin="round">Low</text>
<path d="M369.3 78.9H390.7" stroke="#ff0a14" stroke-width="2.0"/>
<text x="395.4" y="83.7" font-size="14.6" fill="#000" stroke="#000" stroke-width="0.5" stroke-linejoin="round">High</text>
<rect x="518" y="23.1" width="155" height="142.8" fill="none" stroke="#000" stroke-width="1.1"/>
<path d="M569.67 165.9v-2M569.67 23.1v2M621.33 165.9v-2M621.33 23.1v2M518 94.5h2M673 94.5h-2" stroke="#000" stroke-width="1.1" fill="none"/>
<text x="513.94" y="184.1" font-size="14.6" fill="#000" stroke="#000" stroke-width="0.5" stroke-linejoin="round">0</text>
<text x="561.54" y="184.1" font-size="14.6" fill="#000" stroke="#000" stroke-width="0.5" stroke-linejoin="round">50</text>
<mask id="m7" maskUnits="userSpaceOnUse" x="0" y="0" width="685" height="419"><rect width="685" height="419" fill="#fff"/><g fill="#000"><rect x="609.38" y="182.62" width="2.75" height="3.13"/><rect x="613.98" y="182.62" width="2.6" height="3.13"/></g></mask>
<text x="608.74" y="184.1" font-size="14.6" fill="#000" stroke="#000" stroke-width="0.5" stroke-linejoin="round" mask="url(#m7)">100</text>
<mask id="m8" maskUnits="userSpaceOnUse" x="0" y="0" width="685" height="419"><rect width="685" height="419" fill="#fff"/><g fill="#000"><rect x="661.04" y="182.62" width="2.75" height="3.13"/><rect x="665.64" y="182.62" width="2.6" height="3.13"/></g></mask>
<text x="660.4" y="184.1" font-size="14.6" fill="#000" stroke="#000" stroke-width="0.5" stroke-linejoin="round" mask="url(#m8)">150</text>
<mask id="m9" maskUnits="userSpaceOnUse" x="0" y="0" width="685" height="419"><rect width="685" height="419" fill="#fff"/><g fill="#000"><rect x="506.38" y="26.72" width="2.75" height="3.13"/><rect x="510.98" y="26.72" width="2.6" height="3.13"/></g></mask>
<text x="505.74" y="28.2" font-size="14.6" fill="#000" stroke="#000" stroke-width="0.5" stroke-linejoin="round" mask="url(#m9)">1</text>
<text x="491.62" y="99.6" font-size="14.6" fill="#000" stroke="#000" stroke-width="0.5" stroke-linejoin="round">0.5</text>
<text x="505.05" y="171" font-size="14.6" fill="#000" stroke="#000" stroke-width="0.5" stroke-linejoin="round">0</text>
<text x="578.7" y="201.8" font-size="15" fill="#000" stroke="#000" stroke-width="0.5" stroke-linejoin="round">Time</text>
<text x="464.49" y="91.55" font-size="14.6" fill="#000" stroke="#000" stroke-width="0.5" stroke-linejoin="round" transform="rotate(-90 486.7 91.55)">Output</text>
<path d="M518 141.7 L538.4 141.7" fill="none" stroke="#000" stroke-width="2.2" stroke-linejoin="round" stroke-linecap="round"/>
<path d="M538.4 141.7 L538.5 140.71 L538.6 139.73 L538.7 138.75 L538.8 137.78 L538.9 136.81 L539 135.85 L539.1 134.88 L539.2 133.93 L539.3 132.97 L539.4 132.03 L539.5 131.08 L539.6 130.15 L539.7 129.21 L539.8 128.29 L539.9 127.36 L540 126.45 L540.1 125.53 L540.2 124.63 L540.3 123.73 L540.4 122.83 L540.5 121.95 L540.6 121.06 L540.7 120.19 L540.8 119.32 L540.9 118.46 L541 117.6 L541.1 116.75 L541.2 115.91 L541.3 115.07 L541.4 114.24 L541.5 113.42 L541.6 112.61 L541.7 111.8 L541.8 111 L541.9 110.21 L542 109.42 L542.1 108.64 L542.2 107.86 L542.3 107.09 L542.4 106.32 L542.5 105.56 L542.6 104.8 L542.7 104.05 L542.8 103.3 L542.9 102.56 L543 101.82 L543.1 101.09 L543.2 100.36 L543.3 99.63 L543.4 98.91 L543.5 98.19 L543.6 97.47 L543.7 96.76 L543.8 96.06 L543.9 95.35 L544 94.65 L544.1 93.95 L544.2 93.26 L544.3 92.57 L544.4 91.88 L544.5 91.2 L544.6 90.52 L544.7 89.84 L544.8 89.16 L544.9 88.49 L545 87.82 L545.1 87.15 L545.2 86.49 L545.3 85.82 L545.4 85.16 L545.5 84.5 L545.6 83.84 L545.7 83.19 L545.8 82.53 L545.9 81.88 L546 81.23 L546.1 80.58 L546.2 79.94 L546.3 79.29 L546.4 78.64 L546.5 78 L546.6 77.36 L546.7 76.72 L546.8 76.08 L546.9 75.44 L547 74.8 L547.1 74.16 L547.2 73.53 L547.3 72.9 L547.4 72.27 L547.5 71.65 L547.6 71.02 L547.7 70.41 L547.8 69.79 L547.9 69.18 L548 68.57 L548.1 67.96 L548.2 67.36 L548.3 66.76 L548.4 66.17 L548.5 65.58 L548.6 65 L548.7 64.42 L548.8 63.85 L548.9 63.28 L549 62.72 L549.1 62.16 L549.2 61.61 L549.3 61.07 L549.4 60.53 L549.5 60 L549.6 59.47 L549.7 58.95 L549.8 58.42 L549.9 57.9 L550 57.38 L550.1 56.86 L550.2 56.35 L550.3 55.84 L550.4 55.34 L550.5 54.84 L550.6 54.34 L550.7 53.86 L550.8 53.37 L550.9 52.9 L551 52.43 L551.1 51.97 L551.2 51.51 L551.3 51.07 L551.4 50.63 L551.5 50.21 L551.6 49.79 L551.7 49.38 L551.8 48.99 L551.9 48.6 L552 48.22 L552.1 47.85 L552.2 47.48 L552.3 47.12 L552.4 46.76 L552.5 46.4 L552.6 46.06 L552.7 45.71 L552.8 45.37 L552.9 45.04 L553 44.71 L553.1 44.39 L553.2 44.08 L553.3 43.77 L553.4 43.46 L553.5 43.16 L555.3 42.9 L555.8 42.45 L556.3 42.05 L556.8 41.71 L557.3 41.47 L557.8 41.31 L558.3 41.18 L558.8 41.07 L559.3 41.01 L559.8 41 L560.3 41.05 L560.8 41.13 L561.3 41.24 L561.8 41.35 L562.3 41.47 L562.8 41.61 L563.3 41.78 L563.8 41.96 L564.3 42.17 L564.8 42.4 L565.3 42.67 L565.8 42.99 L566.3 43.35 L566.8 43.75 L567.3 44.18 L567.8 44.63 L568.3 45.1 L568.8 45.59 L569.3 46.07 L569.8 46.55 L570.3 47.02 L570.8 47.48 L571.3 47.96 L571.8 48.45 L572.3 48.96 L572.8 49.48 L573.3 50 L573.8 50.52 L574.3 51.03 L574.8 51.53 L575.3 52.01 L575.8 52.47 L576.3 52.9 L576.8 53.31 L577.3 53.71 L577.8 54.1 L578.3 54.47 L578.8 54.83 L579.3 55.17 L579.8 55.48 L580.3 55.77 L580.8 56.06 L581.3 56.34 L581.8 56.62 L582.3 56.88 L582.8 57.12 L583.3 57.36 L583.8 57.57 L584.3 57.77 L584.8 57.94 L585.3 58.09 L585.8 58.25 L586.3 58.4 L586.8 58.55 L587.3 58.69 L587.8 58.81 L588.3 58.92 L588.8 59.01 L589.3 59.07 L589.8 59.1 L590.3 59.1 L590.8 59.09 L591.3 59.09 L591.8 59.07 L592.3 59.06 L592.8 59.04 L593.3 59.02 L593.8 58.99 L594.3 58.97 L594.8 58.94 L595.3 58.91 L595.8 58.88 L596.3 58.85 L596.8 58.81 L597.3 58.78 L597.8 58.74 L598.3 58.71 L598.8 58.68 L599.3 58.64 L599.8 58.61 L600.3 58.58 L600.8 58.55 L601.3 58.51 L601.8 58.48 L602.3 58.44 L602.8 58.4 L603.3 58.36 L603.8 58.31 L604.3 58.27 L604.8 58.23 L605.3 58.18 L605.8 58.14 L606.3 58.1 L606.8 58.05 L607.3 58.01 L607.8 57.97 L608.3 57.93 L608.8 57.89 L609.3 57.85 L609.8 57.81 L610.3 57.78 L610.8 57.74 L611.3 57.7 L611.8 57.67 L612.3 57.63 L612.8 57.59 L613.3 57.55 L613.8 57.51 L614.3 57.47 L614.8 57.43 L615.3 57.39 L615.8 57.36 L616.3 57.33 L616.8 57.3 L617.3 57.27 L617.8 57.25 L618.3 57.23 L618.8 57.22 L619.3 57.21 L619.8 57.2 L620.3 57.2 L620.8 57.2 L621.3 57.2 L621.8 57.2 L622.3 57.21 L622.8 57.21 L623.3 57.21 L623.8 57.21 L624.3 57.22 L624.8 57.22 L625.3 57.23 L625.8 57.23 L626.3 57.24 L626.8 57.24 L627.3 57.25 L627.8 57.25 L628.3 57.26 L628.8 57.26 L629.3 57.27 L629.8 57.27 L630.3 57.28 L630.8 57.28 L631.3 57.29 L631.8 57.3 L632.3 57.3 L632.8 57.31 L633.3 57.31 L633.8 57.32 L634.3 57.32 L634.8 57.32 L635.3 57.33 L635.8 57.33 L636.3 57.34 L636.8 57.34 L637.3 57.34 L637.8 57.34 L638.3 57.35 L638.8 57.35 L639.3 57.35 L639.8 57.35 L640.3 57.35 L640.8 57.35 L641.3 57.35 L641.8 57.35 L642.3 57.35 L642.8 57.35 L643.3 57.35 L643.8 57.35 L644.3 57.35 L644.8 57.35 L645.3 57.35 L645.8 57.35 L646.3 57.35 L646.8 57.35 L647.3 57.35 L647.8 57.35 L648.3 57.35 L648.8 57.35 L649.3 57.35 L649.8 57.35 L650.3 57.35 L650.8 57.35 L651.3 57.35 L651.8 57.35 L652.3 57.35 L652.8 57.35 L653.3 57.35 L653.8 57.35 L654.3 57.35 L654.8 57.35 L655.3 57.35 L655.8 57.35 L656.3 57.35 L656.8 57.35 L657.3 57.35 L657.8 57.35 L658.3 57.35 L658.8 57.35 L659.3 57.35 L659.8 57.35 L660.3 57.35 L660.8 57.35 L661.3 57.35 L661.8 57.35 L662.3 57.35 L662.8 57.35 L663.3 57.35 L663.8 57.35 L664.3 57.35 L664.8 57.35 L665.3 57.35 L665.8 57.35 L666.3 57.35 L666.8 57.35 L667.3 57.35 L667.8 57.35 L668.3 57.35 L668.8 57.35 L669.3 57.35 L669.8 57.35 L670.3 57.35 L670.8 57.35 L671.3 57.35 L671.8 57.35 L672.3 57.35 L672.8 57.35 L673 57.35" fill="none" stroke="#0a28ff" stroke-width="2.2" stroke-linejoin="round" stroke-linecap="round"/>
<path d="M538.4 141.7 L538.5 140.71 L538.6 139.73 L538.7 138.75 L538.8 137.78 L538.9 136.81 L539 135.85 L539.1 134.88 L539.2 133.93 L539.3 132.97 L539.4 132.03 L539.5 131.08 L539.6 130.15 L539.7 129.21 L539.8 128.29 L539.9 127.36 L540 126.45 L540.1 125.53 L540.2 124.63 L540.3 123.73 L540.4 122.83 L540.5 121.95 L540.6 121.06 L540.7 120.19 L540.8 119.32 L540.9 118.46 L541 117.6 L541.1 116.75 L541.2 115.91 L541.3 115.07 L541.4 114.24 L541.5 113.42 L541.6 112.61 L541.7 111.8 L541.8 111 L541.9 110.21 L542 109.42 L542.1 108.64 L542.2 107.86 L542.3 107.09 L542.4 106.32 L542.5 105.56 L542.6 104.8 L542.7 104.05 L542.8 103.3 L542.9 102.56 L543 101.82 L543.1 101.09 L543.2 100.36 L543.3 99.63 L543.4 98.91 L543.5 98.19 L543.6 97.47 L543.7 96.76 L543.8 96.06 L543.9 95.35 L544 94.65 L544.1 93.95 L544.2 93.26 L544.3 92.57 L544.4 91.88 L544.5 91.2 L544.6 90.52 L544.7 89.84 L544.8 89.16 L544.9 88.49 L545 87.82 L545.1 87.15 L545.2 86.49 L545.3 85.82 L545.4 85.16 L545.5 84.5 L545.6 83.84 L545.7 83.19 L545.8 82.53 L545.9 81.88 L546 81.23 L546.1 80.58 L546.2 79.94 L546.3 79.29 L546.4 78.64 L546.5 78 L546.6 77.36 L546.7 76.72 L546.8 76.08 L546.9 75.44 L547 74.8 L547.1 74.16 L547.2 73.53 L547.3 72.9 L547.4 72.27 L547.5 71.65 L547.6 71.02 L547.7 70.41 L547.8 69.79 L547.9 69.18 L548 68.57 L548.1 67.96 L548.2 67.36 L548.3 66.76 L548.4 66.17 L548.5 65.58 L548.6 65 L548.7 64.42 L548.8 63.85 L548.9 63.28 L549 62.72 L549.1 62.16 L549.2 61.61 L549.3 61.07 L549.4 60.53 L549.5 60 L549.6 59.47 L549.7 58.95 L549.8 58.42 L549.9 57.9 L550 57.38 L550.1 56.86 L550.2 56.35 L550.3 55.84 L550.4 55.34 L550.5 54.84 L550.6 54.34 L550.7 53.86 L550.8 53.37 L550.9 52.9 L551 52.43 L551.1 51.97 L551.2 51.51 L551.3 51.07 L551.4 50.63 L551.5 50.21 L551.6 49.79 L551.7 49.38 L551.8 48.99 L551.9 48.6 L552 48.22 L552.1 47.85 L552.2 47.48 L552.3 47.12 L552.4 46.76 L552.5 46.4 L552.6 46.06 L552.7 45.71 L552.8 45.37 L552.9 45.04 L553 44.71 L553.1 44.39 L553.2 44.08 L553.3 43.77 L553.4 43.46 L553.5 43.16 L553.6 42.87 L553.7 42.58 L553.8 42.3 L553.9 42.03 L554 41.76 L554.1 41.5 L554.2 41.25 L554.3 41 L554.4 40.76 L554.5 40.52 L554.6 40.28 L554.7 40.05 L554.8 39.82 L554.9 39.6 L555 39.38 L555.1 39.16 L555.2 38.95 L555.3 38.74 L555.4 38.53 L555.5 38.32 L555.6 38.12 L555.7 37.93 L555.8 37.73 L555.9 37.54 L556 37.35 L556.1 37.16 L556.2 36.98 L556.3 36.8 L556.4 36.62 L556.5 36.45 L556.6 36.28 L556.7 36.11 L556.8 35.94 L556.9 35.78 L557 35.62 L557.1 35.46 L557.2 35.3 L557.3 35.15 L557.4 34.99 L557.5 34.84 L557.6 34.69 L557.7 34.54 L557.8 34.4 L557.9 34.25 L558 34.11 L558.1 33.97 L558.2 33.82 L558.3 33.69 L558.4 33.55 L558.5 33.41 L558.6 33.28 L558.7 33.15 L558.8 33.01 L558.9 32.88 L559 32.76 L559.1 32.63 L559.2 32.5 L559.3 32.38 L559.4 32.26 L559.5 32.14 L559.6 32.02 L559.7 31.9 L559.8 31.78 L559.9 31.67 L560 31.55 L560.1 31.44 L560.2 31.33 L560.3 31.22 L560.4 31.12 L560.5 31.01 L560.6 30.9 L560.7 30.8 L560.8 30.7 L560.9 30.6 L561 30.5 L561.1 30.4 L561.2 30.3 L561.3 30.21 L561.4 30.11 L561.5 30.02 L561.6 29.92 L561.7 29.83 L561.8 29.73 L561.9 29.64 L562 29.54 L562.1 29.45 L562.2 29.36 L562.3 29.27 L562.4 29.18 L562.5 29.09 L562.6 29 L562.7 28.92 L562.8 28.83 L562.9 28.74 L563 28.66 L563.1 28.57 L563.2 28.49 L563.3 28.41 L563.4 28.33 L563.5 28.24 L563.6 28.16 L563.7 28.09 L563.8 28.01 L563.9 27.93 L564 27.86 L564.1 27.78 L564.2 27.71 L564.3 27.64 L564.4 27.57 L564.5 27.5 L564.6 27.43 L564.7 27.36 L564.8 27.29 L564.9 27.23 L565 27.16 L565.1 27.1 L565.2 27.04 L565.3 26.98 L565.4 26.92 L565.5 26.86 L565.6 26.81 L565.7 26.75 L565.8 26.7 L565.9 26.65 L566 26.6 L566.1 26.54 L566.2 26.49 L566.3 26.44 L566.4 26.39 L566.5 26.34 L566.6 26.29 L566.7 26.24 L566.8 26.19 L566.9 26.14 L567 26.09 L567.1 26.04 L567.2 25.99 L567.3 25.95 L567.4 25.9 L567.5 25.85 L567.6 25.81 L567.7 25.76 L567.8 25.71 L567.9 25.67 L568 25.63 L568.1 25.58 L568.2 25.54 L568.3 25.49 L568.4 25.45 L568.5 25.41 L568.6 25.37 L568.7 25.33 L568.8 25.29 L568.9 25.25 L569 25.21 L569.1 25.17 L569.2 25.14 L569.3 25.1 L569.4 25.06 L569.5 25.03 L569.6 24.99 L569.7 24.96 L569.8 24.93 L569.9 24.9 L570 24.87 L570.1 24.83 L570.2 24.8 L570.3 24.78 L570.4 24.75 L570.5 24.72 L570.6 24.69 L570.7 24.67 L570.8 24.64 L570.9 24.62 L571 24.6 L571.1 24.58 L571.2 24.56 L571.3 24.54 L571.4 24.52 L571.5 24.5 L571.6 24.48 L571.7 24.47 L571.8 24.45 L571.9 24.43 L572 24.42 L572.1 24.4 L572.2 24.38 L572.3 24.37 L572.4 24.35 L572.5 24.34 L572.6 24.32 L572.7 24.31 L572.8 24.29 L572.9 24.28 L573 24.26 L573.1 24.25 L573.2 24.23 L573.3 24.22 L573.4 24.2 L573.5 24.19 L573.6 24.18 L573.7 24.16 L573.8 24.15 L573.9 24.13 L574 24.12 L574.1 24.11 L574.2 24.1 L574.3 24.08 L574.4 24.07 L574.5 24.06 L574.6 24.05 L574.7 24.03 L574.8 24.02 L574.9 24.01 L575 24 L575.1 23.99 L575.2 23.98 L575.3 23.97 L575.4 23.95 L575.5 23.94 L575.6 23.93 L575.7 23.92 L575.8 23.91 L575.9 23.9 L576 23.89 L576.1 23.88 L576.2 23.87 L576.3 23.86 L576.4 23.85 L576.5 23.84 L576.6 23.83 L576.7 23.82 L576.8 23.82 L576.9 23.81 L577 23.8 L577.1 23.79 L577.2 23.78 L577.3 23.77 L577.4 23.77 L577.5 23.76 L577.6 23.75 L577.7 23.74 L577.8 23.73 L577.9 23.73 L578 23.72 L578.1 23.71 L578.2 23.71 L578.3 23.7 L578.4 23.69 L578.5 23.68 L578.6 23.68 L578.7 23.67 L578.8 23.67 L578.9 23.66 L579 23.65 L579.1 23.65 L579.2 23.64 L579.3 23.64 L579.4 23.63 L579.5 23.63 L579.6 23.62 L579.7 23.61 L579.8 23.61 L579.9 23.6 L580 23.6 L580.1 23.6 L580.2 23.59 L580.3 23.59 L580.4 23.58 L580.5 23.58 L580.6 23.57 L580.7 23.57 L580.8 23.56 L580.9 23.56 L581 23.55 L581.1 23.55 L581.2 23.54 L581.3 23.54 L581.4 23.53 L581.5 23.53 L581.6 23.53 L581.7 23.52 L581.8 23.52 L581.9 23.51 L582 23.51 L582.1 23.5 L582.2 23.5 L582.3 23.49 L582.4 23.49 L582.5 23.49 L582.6 23.48 L582.7 23.48 L582.8 23.47 L582.9 23.47 L583 23.47 L583.1 23.46 L583.2 23.46 L583.3 23.45 L583.4 23.45 L583.5 23.45 L583.6 23.44 L583.7 23.44 L583.8 23.43 L583.9 23.43 L584 23.43 L584.1 23.42 L584.2 23.42 L584.3 23.41 L584.4 23.41 L584.5 23.41 L584.6 23.4 L584.7 23.4 L584.8 23.4 L584.9 23.39 L585 23.39 L585.1 23.39 L585.2 23.38 L585.3 23.38 L585.4 23.38 L585.5 23.37 L585.6 23.37 L585.7 23.37 L585.8 23.37 L585.9 23.36 L586 23.36 L586.1 23.36 L586.2 23.35 L586.3 23.35 L586.4 23.35 L586.5 23.35 L586.6 23.34 L586.7 23.34 L586.8 23.34 L586.9 23.34 L587 23.33 L587.1 23.33 L587.2 23.33 L587.3 23.33 L587.4 23.33 L587.5 23.32 L587.6 23.32 L587.7 23.32 L587.8 23.32 L587.9 23.32 L588 23.32 L588.1 23.31 L588.2 23.31 L588.3 23.31 L588.4 23.31 L588.5 23.31 L588.6 23.31 L588.7 23.31 L588.8 23.31 L588.9 23.3 L589 23.3 L589.1 23.3 L589.2 23.3 L589.3 23.3 L589.4 23.3 L589.5 23.3 L589.6 23.3 L589.7 23.3 L589.8 23.3 L589.9 23.3 L590 23.3 L590.1 23.3 L590.2 23.3 L590.3 23.3 L590.4 23.3 L590.5 23.3 L590.6 23.3 L590.7 23.3 L590.8 23.3 L590.9 23.3 L591 23.3 L591.1 23.3 L591.2 23.3 L591.3 23.3 L591.4 23.3 L591.5 23.3 L591.6 23.3 L591.7 23.3 L591.8 23.3 L591.9 23.3 L592 23.3 L592.1 23.3 L592.2 23.3 L592.3 23.3 L592.4 23.3 L592.5 23.3 L592.6 23.3 L592.7 23.3 L592.8 23.3 L592.9 23.3 L593 23.3 L593.1 23.3 L593.2 23.3 L593.3 23.3 L593.4 23.3 L593.5 23.3 L593.6 23.3 L593.7 23.3 L593.8 23.3 L593.9 23.3 L594 23.3 L594.1 23.3 L594.2 23.3 L594.3 23.3 L594.4 23.3 L594.5 23.3 L594.6 23.3 L594.7 23.3 L594.8 23.3 L594.9 23.3 L595 23.3 L595.1 23.3 L595.2 23.3 L595.3 23.3 L595.4 23.3 L595.5 23.3 L595.6 23.3 L595.7 23.3 L595.8 23.3 L595.9 23.3 L596 23.3 L596.1 23.3 L596.2 23.3 L596.3 23.3 L596.4 23.3 L596.5 23.3 L596.6 23.3 L596.7 23.3 L596.8 23.3 L596.9 23.3 L597 23.3 L597.1 23.3 L597.2 23.3 L597.3 23.3 L597.4 23.3 L597.5 23.3 L597.6 23.3 L597.7 23.3 L597.8 23.3 L597.9 23.3 L598 23.3 L598.1 23.3 L598.2 23.3 L598.3 23.3 L598.4 23.3 L598.5 23.3 L598.6 23.3 L598.7 23.3 L598.8 23.3 L598.9 23.3 L599 23.3 L599.1 23.3 L599.2 23.3 L599.3 23.3 L599.4 23.3 L599.5 23.3 L599.6 23.3 L599.7 23.3 L599.8 23.3 L599.9 23.3 L600 23.3 L600.1 23.3 L600.2 23.3 L600.3 23.3 L600.4 23.3 L600.5 23.3 L600.6 23.3 L600.7 23.3 L600.8 23.3 L600.9 23.3 L601 23.3 L601.1 23.3 L601.2 23.3 L601.3 23.3 L601.4 23.3 L601.5 23.3 L601.6 23.3 L601.7 23.3 L601.8 23.3 L601.9 23.3 L602 23.3 L602.1 23.3 L602.2 23.3 L602.3 23.3 L602.4 23.3 L602.5 23.3 L602.6 23.3 L602.7 23.3 L602.8 23.3 L602.9 23.3 L603 23.3 L603.1 23.3 L603.2 23.3 L603.3 23.3 L603.4 23.3 L603.5 23.3 L603.6 23.3 L603.7 23.3 L603.8 23.3 L603.9 23.3 L604 23.3 L604.1 23.3 L604.2 23.3 L604.3 23.3 L604.4 23.3 L604.5 23.3 L604.6 23.3 L604.7 23.3 L604.8 23.3 L604.9 23.3 L605 23.3 L605.1 23.3 L605.2 23.3 L605.3 23.3 L605.4 23.3 L605.5 23.3 L605.6 23.3 L605.7 23.3 L605.8 23.3 L605.9 23.3 L606 23.3 L606.1 23.3 L606.2 23.3 L606.3 23.3 L606.4 23.3 L606.5 23.3 L606.6 23.3 L606.7 23.3 L606.8 23.3 L606.9 23.3 L607 23.3 L607.1 23.3 L607.2 23.3 L607.3 23.3 L607.4 23.3 L607.5 23.3 L607.6 23.3 L607.7 23.3 L607.8 23.3 L607.9 23.3 L608 23.3 L608.1 23.3 L608.2 23.3 L608.3 23.3 L608.4 23.3 L608.5 23.3 L608.6 23.3 L608.7 23.3 L608.8 23.3 L608.9 23.3 L609 23.3 L609.1 23.3 L609.2 23.3 L609.3 23.3 L609.4 23.3 L609.5 23.3 L609.6 23.3 L609.7 23.3 L609.8 23.3 L609.9 23.3 L610 23.3 L610.1 23.3 L610.2 23.3 L610.3 23.3 L610.4 23.3 L610.5 23.3 L610.6 23.3 L610.7 23.3 L610.8 23.3 L610.9 23.3 L611 23.3 L611.1 23.3 L611.2 23.3 L611.3 23.3 L611.4 23.3 L611.5 23.3 L611.6 23.3 L611.7 23.3 L611.8 23.3 L611.9 23.3 L612 23.3 L612.1 23.3 L612.2 23.3 L612.3 23.3 L612.4 23.3 L612.5 23.3 L612.6 23.3 L612.7 23.3 L612.8 23.3 L612.9 23.3 L613 23.3 L613.1 23.3 L613.2 23.3 L613.3 23.3 L613.4 23.3 L613.5 23.3 L613.6 23.3 L613.7 23.3 L613.8 23.3 L613.9 23.3 L614 23.3 L614.1 23.3 L614.2 23.3 L614.3 23.3 L614.4 23.3 L614.5 23.3 L614.6 23.3 L614.7 23.3 L614.8 23.3 L614.9 23.3 L615 23.3 L615.1 23.3 L615.2 23.3 L615.3 23.3 L615.4 23.3 L615.5 23.3 L615.6 23.3 L615.7 23.3 L615.8 23.3 L615.9 23.3 L616 23.3 L616.1 23.3 L616.2 23.3 L616.3 23.3 L616.4 23.3 L616.5 23.3 L616.6 23.3 L616.7 23.3 L616.8 23.3 L616.9 23.3 L617 23.3 L617.1 23.3 L617.2 23.3 L617.3 23.3 L617.4 23.3 L617.5 23.3 L617.6 23.3 L617.7 23.3 L617.8 23.3 L617.9 23.3 L618 23.3 L618.1 23.3 L618.2 23.3 L618.3 23.3 L618.4 23.3 L618.5 23.3 L618.6 23.3 L618.7 23.3 L618.8 23.3 L618.9 23.3 L619 23.3 L619.1 23.3 L619.2 23.3 L619.3 23.3 L619.4 23.3 L619.5 23.3 L619.6 23.3 L619.7 23.3 L619.8 23.3 L619.9 23.3 L620 23.3 L620.1 23.3 L620.2 23.3 L620.3 23.3 L620.4 23.3 L620.5 23.3 L620.6 23.3 L620.7 23.3 L620.8 23.3 L620.9 23.3 L621 23.3 L621.1 23.3 L621.2 23.3 L621.3 23.3 L621.4 23.3 L621.5 23.3 L621.6 23.3 L621.7 23.3 L621.8 23.3 L621.9 23.3 L622 23.3 L622.1 23.3 L622.2 23.3 L622.3 23.3 L622.4 23.3 L622.5 23.3 L622.6 23.3 L622.7 23.3 L622.8 23.3 L622.9 23.3 L623 23.3 L623.1 23.3 L623.2 23.3 L623.3 23.3 L623.4 23.3 L623.5 23.3 L623.6 23.3 L623.7 23.3 L623.8 23.3 L623.9 23.3 L624 23.3 L624.1 23.3 L624.2 23.3 L624.3 23.3 L624.4 23.3 L624.5 23.3 L624.6 23.3 L624.7 23.3 L624.8 23.3 L624.9 23.3 L625 23.3 L625.1 23.3 L625.2 23.3 L625.3 23.3 L625.4 23.3 L625.5 23.3 L625.6 23.3 L625.7 23.3 L625.8 23.3 L625.9 23.3 L626 23.3 L626.1 23.3 L626.2 23.3 L626.3 23.3 L626.4 23.3 L626.5 23.3 L626.6 23.3 L626.7 23.3 L626.8 23.3 L626.9 23.3 L627 23.3 L627.1 23.3 L627.2 23.3 L627.3 23.3 L627.4 23.3 L627.5 23.3 L627.6 23.3 L627.7 23.3 L627.8 23.3 L627.9 23.3 L628 23.3 L628.1 23.3 L628.2 23.3 L628.3 23.3 L628.4 23.3 L628.5 23.3 L628.6 23.3 L628.7 23.3 L628.8 23.3 L628.9 23.3 L629 23.3 L629.1 23.3 L629.2 23.3 L629.3 23.3 L629.4 23.3 L629.5 23.3 L629.6 23.3 L629.7 23.3 L629.8 23.3 L629.9 23.3 L630 23.3 L630.1 23.3 L630.2 23.3 L630.3 23.3 L630.4 23.3 L630.5 23.3 L630.6 23.3 L630.7 23.3 L630.8 23.3 L630.9 23.3 L631 23.3 L631.1 23.3 L631.2 23.3 L631.3 23.3 L631.4 23.3 L631.5 23.3 L631.6 23.3 L631.7 23.3 L631.8 23.3 L631.9 23.3 L632 23.3 L632.1 23.3 L632.2 23.3 L632.3 23.3 L632.4 23.3 L632.5 23.3 L632.6 23.3 L632.7 23.3 L632.8 23.3 L632.9 23.3 L633 23.3 L633.1 23.3 L633.2 23.3 L633.3 23.3 L633.4 23.3 L633.5 23.3 L633.6 23.3 L633.7 23.3 L633.8 23.3 L633.9 23.3 L634 23.3 L634.1 23.3 L634.2 23.3 L634.3 23.3 L634.4 23.3 L634.5 23.3 L634.6 23.3 L634.7 23.3 L634.8 23.3 L634.9 23.3 L635 23.3 L635.1 23.3 L635.2 23.3 L635.3 23.3 L635.4 23.3 L635.5 23.3 L635.6 23.3 L635.7 23.3 L635.8 23.3 L635.9 23.3 L636 23.3 L636.1 23.3 L636.2 23.3 L636.3 23.3 L636.4 23.3 L636.5 23.3 L636.6 23.3 L636.7 23.3 L636.8 23.3 L636.9 23.3 L637 23.3 L637.1 23.3 L637.2 23.3 L637.3 23.3 L637.4 23.3 L637.5 23.3 L637.6 23.3 L637.7 23.3 L637.8 23.3 L637.9 23.3 L638 23.3 L638.1 23.3 L638.2 23.3 L638.3 23.3 L638.4 23.3 L638.5 23.3 L638.6 23.3 L638.7 23.3 L638.8 23.3 L638.9 23.3 L639 23.3 L639.1 23.3 L639.2 23.3 L639.3 23.3 L639.4 23.3 L639.5 23.3 L639.6 23.3 L639.7 23.3 L639.8 23.3 L639.9 23.3 L640 23.3 L640.1 23.3 L640.2 23.3 L640.3 23.3 L640.4 23.3 L640.5 23.3 L640.6 23.3 L640.7 23.3 L640.8 23.3 L640.9 23.3 L641 23.3 L641.1 23.3 L641.2 23.3 L641.3 23.3 L641.4 23.3 L641.5 23.3 L641.6 23.3 L641.7 23.3 L641.8 23.3 L641.9 23.3 L642 23.3 L642.1 23.3 L642.2 23.3 L642.3 23.3 L642.4 23.3 L642.5 23.3 L642.6 23.3 L642.7 23.3 L642.8 23.3 L642.9 23.3 L643 23.3 L643.1 23.3 L643.2 23.3 L643.3 23.3 L643.4 23.3 L643.5 23.3 L643.6 23.3 L643.7 23.3 L643.8 23.3 L643.9 23.3 L644 23.3 L644.1 23.3 L644.2 23.3 L644.3 23.3 L644.4 23.3 L644.5 23.3 L644.6 23.3 L644.7 23.3 L644.8 23.3 L644.9 23.3 L645 23.3 L645.1 23.3 L645.2 23.3 L645.3 23.3 L645.4 23.3 L645.5 23.3 L645.6 23.3 L645.7 23.3 L645.8 23.3 L645.9 23.3 L646 23.3 L646.1 23.3 L646.2 23.3 L646.3 23.3 L646.4 23.3 L646.5 23.3 L646.6 23.3 L646.7 23.3 L646.8 23.3 L646.9 23.3 L647 23.3 L647.1 23.3 L647.2 23.3 L647.3 23.3 L647.4 23.3 L647.5 23.3 L647.6 23.3 L647.7 23.3 L647.8 23.3 L647.9 23.3 L648 23.3 L648.1 23.3 L648.2 23.3 L648.3 23.3 L648.4 23.3 L648.5 23.3 L648.6 23.3 L648.7 23.3 L648.8 23.3 L648.9 23.3 L649 23.3 L649.1 23.3 L649.2 23.3 L649.3 23.3 L649.4 23.3 L649.5 23.3 L649.6 23.3 L649.7 23.3 L649.8 23.3 L649.9 23.3 L650 23.3 L650.1 23.3 L650.2 23.3 L650.3 23.3 L650.4 23.3 L650.5 23.3 L650.6 23.3 L650.7 23.3 L650.8 23.3 L650.9 23.3 L651 23.3 L651.1 23.3 L651.2 23.3 L651.3 23.3 L651.4 23.3 L651.5 23.3 L651.6 23.3 L651.7 23.3 L651.8 23.3 L651.9 23.3 L652 23.3 L652.1 23.3 L652.2 23.3 L652.3 23.3 L652.4 23.3 L652.5 23.3 L652.6 23.3 L652.7 23.3 L652.8 23.3 L652.9 23.3 L653 23.3 L653.1 23.3 L653.2 23.3 L653.3 23.3 L653.4 23.3 L653.5 23.3 L653.6 23.3 L653.7 23.3 L653.8 23.3 L653.9 23.3 L654 23.3 L654.1 23.3 L654.2 23.3 L654.3 23.3 L654.4 23.3 L654.5 23.3 L654.6 23.3 L654.7 23.3 L654.8 23.3 L654.9 23.3 L655 23.3 L655.1 23.3 L655.2 23.3 L655.3 23.3 L655.4 23.3 L655.5 23.3 L655.6 23.3 L655.7 23.3 L655.8 23.3 L655.9 23.3 L656 23.3 L656.1 23.3 L656.2 23.3 L656.3 23.3 L656.4 23.3 L656.5 23.3 L656.6 23.3 L656.7 23.3 L656.8 23.3 L656.9 23.3 L657 23.3 L657.1 23.3 L657.2 23.3 L657.3 23.3 L657.4 23.3 L657.5 23.3 L657.6 23.3 L657.7 23.3 L657.8 23.3 L657.9 23.3 L658 23.3 L658.1 23.3 L658.2 23.3 L658.3 23.3 L658.4 23.3 L658.5 23.3 L658.6 23.3 L658.7 23.3 L658.8 23.3 L658.9 23.3 L659 23.3 L659.1 23.3 L659.2 23.3 L659.3 23.3 L659.4 23.3 L659.5 23.3 L659.6 23.3 L659.7 23.3 L659.8 23.3 L659.9 23.3 L660 23.3 L660.1 23.3 L660.2 23.3 L660.3 23.3 L660.4 23.3 L660.5 23.3 L660.6 23.3 L660.7 23.3 L660.8 23.3 L660.9 23.3 L661 23.3 L661.1 23.3 L661.2 23.3 L661.3 23.3 L661.4 23.3 L661.5 23.3 L661.6 23.3 L661.7 23.3 L661.8 23.3 L661.9 23.3 L662 23.3 L662.1 23.3 L662.2 23.3 L662.3 23.3 L662.4 23.3 L662.5 23.3 L662.6 23.3 L662.7 23.3 L662.8 23.3 L662.9 23.3 L663 23.3 L663.1 23.3 L663.2 23.3 L663.3 23.3 L663.4 23.3 L663.5 23.3 L663.6 23.3 L663.7 23.3 L663.8 23.3 L663.9 23.3 L664 23.3 L664.1 23.3 L664.2 23.3 L664.3 23.3 L664.4 23.3 L664.5 23.3 L664.6 23.3 L664.7 23.3 L664.8 23.3 L664.9 23.3 L665 23.3 L665.1 23.3 L665.2 23.3 L665.3 23.3 L665.4 23.3 L665.5 23.3 L665.6 23.3 L665.7 23.3 L665.8 23.3 L665.9 23.3 L666 23.3 L666.1 23.3 L666.2 23.3 L666.3 23.3 L666.4 23.3 L666.5 23.3 L666.6 23.3 L666.7 23.3 L666.8 23.3 L666.9 23.3 L667 23.3 L667.1 23.3 L667.2 23.3 L667.3 23.3 L667.4 23.3 L667.5 23.3 L667.6 23.3 L667.7 23.3 L667.8 23.3 L667.9 23.3 L668 23.3 L668.1 23.3 L668.2 23.3 L668.3 23.3 L668.4 23.3 L668.5 23.3 L668.6 23.3 L668.7 23.3 L668.8 23.3 L668.9 23.3 L669 23.3 L669.1 23.3 L669.2 23.3 L669.3 23.3 L669.4 23.3 L669.5 23.3 L669.6 23.3 L669.7 23.3 L669.8 23.3 L669.9 23.3 L670 23.3 L670.1 23.3 L670.2 23.3 L670.3 23.3 L670.4 23.3 L670.5 23.3 L670.6 23.3 L670.7 23.3 L670.8 23.3 L670.9 23.3 L671 23.3 L671.1 23.3 L671.2 23.3 L671.3 23.3 L671.4 23.3 L671.5 23.3 L671.6 23.3 L671.7 23.3 L671.8 23.3 L671.9 23.3 L672 23.3 L672.1 23.3 L672.2 23.3 L672.3 23.3 L672.4 23.3 L672.5 23.3 L672.6 23.3 L672.7 23.3 L672.8 23.3 L672.9 23.3 L673 23.3 L673 23.3" fill="none" stroke="#ff0a14" stroke-width="2.2" stroke-linejoin="round" stroke-linecap="round"/>
<rect x="595.4" y="98.6" width="72" height="60.2" fill="#fff" stroke="#000" stroke-width="1.1"/>
<path d="M602 110.1H623.8" stroke="#000" stroke-width="2.0"/>
<text x="628.3" y="115.1" font-size="14.6" fill="#000" stroke="#000" stroke-width="0.5" stroke-linejoin="round">No</text>
<path d="M602 129.2H623.8" stroke="#0a28ff" stroke-width="2.0"/>
<text x="628.3" y="134.2" font-size="14.6" fill="#000" stroke="#000" stroke-width="0.5" stroke-linejoin="round">Low</text>
<path d="M602 146.9H623.8" stroke="#ff0a14" stroke-width="2.0"/>
<text x="628.3" y="151.9" font-size="14.6" fill="#000" stroke="#000" stroke-width="0.5" stroke-linejoin="round">High</text>
<rect x="492.8" y="192.8" width="1.3" height="1.3" fill="#333"/>
<rect x="646.2" y="192.8" width="1.3" height="1.3" fill="#333"/>
<rect x="51.5" y="232" width="155" height="143.2" fill="none" stroke="#000" stroke-width="1.1"/>
<path d="M68.72 375.2v-2M68.72 232v2M103.17 375.2v-2M103.17 232v2M137.61 375.2v-2M137.61 232v2M172.06 375.2v-2M172.06 232v2M51.5 303.6h2M206.5 303.6h-2" stroke="#000" stroke-width="1.1" fill="none"/>
<text x="58.36" y="393.5" font-size="14.6" fill="#000" stroke="#000" stroke-width="0.5" stroke-linejoin="round">0.2</text>
<text x="92.65" y="393.5" font-size="14.6" fill="#000" stroke="#000" stroke-width="0.5" stroke-linejoin="round">0.4</text>
<text x="127.2" y="393.5" font-size="14.6" fill="#000" stroke="#000" stroke-width="0.5" stroke-linejoin="round">0.6</text>
<text x="161.64" y="393.5" font-size="14.6" fill="#000" stroke="#000" stroke-width="0.5" stroke-linejoin="round">0.8</text>
<mask id="m10" maskUnits="userSpaceOnUse" x="0" y="0" width="685" height="419"><rect width="685" height="419" fill="#fff"/><g fill="#000"><rect x="203.66" y="392.02" width="2.75" height="3.13"/><rect x="208.26" y="392.02" width="2.6" height="3.13"/></g></mask>
<text x="203.02" y="393.5" font-size="14.6" fill="#000" stroke="#000" stroke-width="0.5" stroke-linejoin="round" mask="url(#m10)">1</text>
<mask id="m11" maskUnits="userSpaceOnUse" x="0" y="0" width="685" height="419"><rect width="685" height="419" fill="#fff"/><g fill="#000"><rect x="39.88" y="235.62" width="2.75" height="3.13"/><rect x="44.48" y="235.62" width="2.6" height="3.13"/></g></mask>
<text x="39.24" y="237.1" font-size="14.6" fill="#000" stroke="#000" stroke-width="0.5" stroke-linejoin="round" mask="url(#m11)">1</text>
<text x="25.12" y="308.7" font-size="14.6" fill="#000" stroke="#000" stroke-width="0.5" stroke-linejoin="round">0.5</text>
<text x="38.55" y="380.3" font-size="14.6" fill="#000" stroke="#000" stroke-width="0.5" stroke-linejoin="round">0</text>
<text x="123.97" y="411.4" font-size="14.6" fill="#000" stroke="#000" stroke-width="0.5" stroke-linejoin="round">I</text>
<mask id="m12" maskUnits="userSpaceOnUse" x="0" y="0" width="685" height="419"><rect width="685" height="419" fill="#fff"/><g fill="#000"><rect x="128.75" y="417.69" width="2.36" height="2.96"/><rect x="132.68" y="417.69" width="2.23" height="2.96"/></g></mask>
<text x="128.2" y="419" font-size="12.5" fill="#000" stroke="#000" stroke-width="0.5" stroke-linejoin="round" mask="url(#m12)">1</text>
<text x="-6.21" y="303.1" font-size="14.6" fill="#000" stroke="#000" stroke-width="0.5" stroke-linejoin="round" transform="rotate(-90 16 303.1)">Output</text>
<path d="M52.2 350.9 L52.7 351.08 L53.2 351.26 L53.7 351.44 L54.2 351.62 L54.7 351.79 L55.2 351.95 L55.7 352.11 L56.2 352.27 L56.7 352.42 L57.2 352.57 L57.7 352.72 L58.2 352.85 L58.7 352.99 L59.2 353.12 L59.7 353.25 L60.2 353.38 L60.7 353.5 L61.2 353.62 L61.7 353.73 L62.2 353.85 L62.7 353.96 L63.2 354.07 L63.7 354.18 L64.2 354.28 L64.7 354.38 L65.2 354.48 L65.7 354.58 L66.2 354.68 L66.7 354.78 L67.2 354.88 L67.7 354.97 L68.2 355.06 L68.7 355.15 L69.2 355.23 L69.7 355.31 L70.2 355.39 L70.7 355.46 L71.2 355.53 L71.7 355.59 L72.2 355.65 L72.7 355.72 L73.2 355.78 L73.7 355.83 L74.2 355.89 L74.7 355.94 L75.2 355.99 L75.7 356.04 L76.2 356.08 L76.7 356.13 L77.2 356.16 L77.7 356.2" fill="none" stroke="#000" stroke-width="2.8" stroke-linejoin="round" stroke-linecap="round"/>
<path d="M77.7 356.2 L78.2 356.24 L78.7 356.28 L79.2 356.32 L79.7 356.35 L80.2 356.39 L80.7 356.43 L81.2 356.46 L81.7 356.5 L82.2 356.53 L82.7 356.57 L83.2 356.6 L83.7 356.64 L84.2 356.67 L84.7 356.7 L85.2 356.73 L85.7 356.76 L86.2 356.79 L86.7 356.82 L87.2 356.85 L87.7 356.88 L88.2 356.91 L88.7 356.93 L89.2 356.96 L89.7 356.99 L90.2 357.01 L90.7 357.03 L91.2 357.06 L91.7 357.08 L92.2 357.1 L92.7 357.13 L93.2 357.15 L93.7 357.17 L94.2 357.19 L94.7 357.21 L95.2 357.23 L95.7 357.25 L96.2 357.27 L96.7 357.29 L97.2 357.31 L97.7 357.32 L98.2 357.34 L98.7 357.36 L99.2 357.38 L99.7 357.39 L100.2 357.41 L100.7 357.42 L101.2 357.44 L101.7 357.45 L102.2 357.47 L102.7 357.48 L103.2 357.5 L103.7 357.51 L104.2 357.52 L104.7 357.54 L105.2 357.55 L105.7 357.57 L106.2 357.58 L106.7 357.6 L107.2 357.61 L107.7 357.62 L108.2 357.64 L108.7 357.65 L109.2 357.66 L109.7 357.68 L110.2 357.69 L110.7 357.7 L111.2 357.72 L111.7 357.73 L112.2 357.74 L112.7 357.76 L113.2 357.77 L113.7 357.78 L114.2 357.79 L114.7 357.81 L115.2 357.82 L115.7 357.83 L116.2 357.84 L116.7 357.86 L117.2 357.87 L117.7 357.88 L118.2 357.89 L118.7 357.91 L119.2 357.92 L119.7 357.93 L120.2 357.94 L120.7 357.95 L121.2 357.96 L121.7 357.98 L122.2 357.99 L122.7 358 L123.2 358.01 L123.7 358.02 L124.2 358.03 L124.7 358.04 L125.2 358.05 L125.7 358.06 L126.2 358.08 L126.7 358.09 L127.2 358.1 L127.7 358.11 L128.2 358.12 L128.7 358.13 L129.2 358.14 L129.7 358.15 L130.2 358.16 L130.7 358.17 L131.2 358.18 L131.7 358.19 L132.2 358.2 L132.7 358.21 L133.2 358.22 L133.7 358.23 L134.2 358.24 L134.7 358.25 L135.2 358.26 L135.7 358.26 L136.2 358.27 L136.7 358.28 L137.2 358.29 L137.7 358.3 L138.2 358.31 L138.7 358.32 L139.2 358.33 L139.7 358.34 L140.2 358.35 L140.7 358.35 L141.2 358.36 L141.7 358.37 L142.2 358.38 L142.7 358.39 L143.2 358.4 L143.7 358.4 L144.2 358.41 L144.7 358.42 L145.2 358.43 L145.7 358.44 L146.2 358.44 L146.7 358.45 L147.2 358.46 L147.7 358.47 L148.2 358.47 L148.7 358.48 L149.2 358.49 L149.7 358.5 L150.2 358.5 L150.7 358.51 L151.2 358.52 L151.7 358.52 L152.2 358.53 L152.7 358.54 L153.2 358.55 L153.7 358.55 L154.2 358.56 L154.7 358.57 L155.2 358.57 L155.7 358.58 L156.2 358.59 L156.7 358.6 L157.2 358.6 L157.7 358.61 L158.2 358.62 L158.7 358.62 L159.2 358.63 L159.7 358.64 L160.2 358.64 L160.7 358.65 L161.2 358.66 L161.7 358.66 L162.2 358.67 L162.7 358.68 L163.2 358.68 L163.7 358.69 L164.2 358.7 L164.7 358.7 L165.2 358.71 L165.7 358.72 L166.2 358.72 L166.7 358.73 L167.2 358.74 L167.7 358.74 L168.2 358.75 L168.7 358.76 L169.2 358.76 L169.7 358.77 L170.2 358.77 L170.7 358.78 L171.2 358.79 L171.7 358.79 L172.2 358.8 L172.7 358.81 L173.2 358.81 L173.7 358.82 L174.2 358.82 L174.7 358.83 L175.2 358.84 L175.7 358.84 L176.2 358.85 L176.7 358.85 L177.2 358.86 L177.7 358.86 L178.2 358.87 L178.7 358.88 L179.2 358.88 L179.7 358.89 L180.2 358.89 L180.7 358.9 L181.2 358.9 L181.7 358.91 L182.2 358.91 L182.7 358.92 L183.2 358.92 L183.7 358.93 L184.2 358.93 L184.7 358.94 L185.2 358.94 L185.7 358.95 L186.2 358.95 L186.7 358.96 L187.2 358.96 L187.7 358.97 L188.2 358.97 L188.7 358.98 L189.2 358.98 L189.7 358.99 L190.2 358.99 L190.7 358.99 L191.2 359 L191.7 359 L192.2 359.01 L192.7 359.01 L193.2 359.02 L193.7 359.02 L194.2 359.02 L194.7 359.03 L195.2 359.03 L195.7 359.04 L196.2 359.04 L196.7 359.04 L197.2 359.05 L197.7 359.05 L198.2 359.05 L198.7 359.06 L199.2 359.06 L199.7 359.06 L200.2 359.07 L200.7 359.07 L201.2 359.07 L201.7 359.08 L202.2 359.08 L202.7 359.08 L203.2 359.08 L203.7 359.09 L204.2 359.09 L204.7 359.09 L205.2 359.09 L205.7 359.1 L206.2 359.1 L206.3 359.1" fill="none" stroke="#bfcdc8" stroke-width="3.0" stroke-linejoin="round" stroke-linecap="round"/>
<path d="M66.3 312.1 L66.8 311.57 L67.3 311.07 L67.8 310.66 L68.3 310.35 L68.8 310.18 L69.3 310.06 L69.8 309.96 L70.3 309.89 L70.8 309.83 L71.3 309.8 L71.8 309.81 L72.3 309.87 L72.8 309.97 L73.3 310.1 L73.8 310.24 L74.3 310.4 L74.8 310.54 L75.3 310.68 L75.8 310.83 L76.3 310.99 L76.8 311.15 L77.3 311.32 L77.8 311.5 L78.3 311.68 L78.8 311.87 L79.3 312.06 L79.8 312.26 L80.3 312.47 L80.8 312.69 L81.3 312.91 L81.8 313.15 L82.3 313.39 L82.8 313.64 L83.3 313.88 L83.8 314.13 L84.3 314.38 L84.8 314.62 L85.3 314.86 L85.8 315.1 L86.3 315.32 L86.8 315.53 L87.3 315.74 L87.8 315.93 L88.3 316.11 L88.8 316.28 L89.3 316.45 L89.8 316.62 L90.3 316.79 L90.8 316.95 L91.3 317.11 L91.8 317.27 L92.3 317.43 L92.8 317.58 L93.3 317.73 L93.8 317.88 L94.3 318.02 L94.8 318.16 L95.3 318.3 L95.8 318.43 L96.3 318.56 L96.8 318.69 L97.3 318.81 L97.8 318.93 L98.3 319.04 L98.8 319.15 L99.3 319.26 L99.8 319.36 L100.3 319.46 L100.8 319.56 L101.3 319.65 L101.8 319.74 L102.3 319.83 L102.8 319.92 L103.3 320.01 L103.8 320.1 L104.3 320.18 L104.8 320.26 L105.3 320.35 L105.8 320.43 L106.3 320.5 L106.8 320.58 L107.3 320.66 L107.8 320.73 L108.3 320.81 L108.8 320.88 L109.3 320.95 L109.8 321.02 L110.3 321.09 L110.8 321.16 L111.3 321.22 L111.8 321.29 L112.3 321.36 L112.8 321.42 L113.3 321.49 L113.8 321.55 L114.3 321.61 L114.8 321.67 L115.3 321.74 L115.8 321.8 L116.3 321.86 L116.8 321.92 L117.3 321.98 L117.8 322.04 L118.3 322.1 L118.8 322.16 L119.3 322.22 L119.8 322.28 L120.3 322.34 L120.8 322.39 L121.3 322.45 L121.8 322.51 L122.3 322.57 L122.8 322.62 L123.3 322.68 L123.8 322.73 L124.3 322.79 L124.8 322.84 L125.3 322.9 L125.8 322.95 L126.3 323 L126.8 323.05 L127.3 323.11 L127.8 323.16 L128.3 323.21 L128.8 323.26 L129.3 323.31 L129.8 323.36 L130.3 323.41 L130.8 323.46 L131.3 323.5 L131.8 323.55 L132.3 323.6 L132.8 323.65 L133.3 323.69 L133.8 323.74 L134.3 323.79 L134.8 323.83 L135.3 323.88 L135.8 323.93 L136.3 323.97 L136.8 324.02 L137.3 324.06 L137.8 324.11 L138.3 324.15 L138.8 324.19 L139.3 324.24 L139.8 324.28 L140.3 324.33 L140.8 324.37 L141.3 324.41 L141.8 324.46 L142.3 324.5 L142.8 324.54 L143.3 324.59 L143.8 324.63 L144.3 324.67 L144.8 324.71 L145.3 324.76 L145.8 324.8 L146.3 324.84 L146.8 324.88 L147.3 324.92 L147.8 324.97 L148.3 325.01 L148.8 325.05 L149.3 325.09 L149.8 325.13 L150.3 325.17 L150.8 325.21 L151.3 325.25 L151.8 325.29 L152.3 325.33 L152.8 325.37 L153.3 325.41 L153.8 325.45 L154.3 325.49 L154.8 325.53 L155.3 325.57 L155.8 325.61 L156.3 325.64 L156.8 325.68 L157.3 325.72 L157.8 325.76 L158.3 325.79 L158.8 325.83 L159.3 325.87 L159.8 325.91 L160.3 325.94 L160.8 325.98 L161.3 326.01 L161.8 326.05 L162.3 326.09 L162.8 326.12 L163.3 326.16 L163.8 326.19 L164.3 326.23 L164.8 326.26 L165.3 326.29 L165.8 326.33 L166.3 326.36 L166.8 326.39 L167.3 326.43 L167.8 326.46 L168.3 326.49 L168.8 326.52 L169.3 326.56 L169.8 326.59 L170.3 326.62 L170.8 326.65 L171.3 326.68 L171.8 326.71 L172.3 326.74 L172.8 326.77 L173.3 326.8 L173.8 326.83 L174.3 326.87 L174.8 326.9 L175.3 326.93 L175.8 326.96 L176.3 326.99 L176.8 327.02 L177.3 327.05 L177.8 327.08 L178.3 327.1 L178.8 327.13 L179.3 327.16 L179.8 327.19 L180.3 327.22 L180.8 327.25 L181.3 327.28 L181.8 327.31 L182.3 327.34 L182.8 327.36 L183.3 327.39 L183.8 327.42 L184.3 327.45 L184.8 327.48 L185.3 327.5 L185.8 327.53 L186.3 327.56 L186.8 327.58 L187.3 327.61 L187.8 327.64 L188.3 327.66 L188.8 327.69 L189.3 327.72 L189.8 327.74 L190.3 327.77 L190.8 327.8 L191.3 327.82 L191.8 327.85 L192.3 327.87 L192.8 327.9 L193.3 327.92 L193.8 327.95 L194.3 327.97 L194.8 328 L195.3 328.02 L195.8 328.04 L196.3 328.07 L196.8 328.09 L197.3 328.11 L197.8 328.14 L198.3 328.16 L198.8 328.18 L199.3 328.21 L199.8 328.23 L200.3 328.25 L200.8 328.27 L201.3 328.29 L201.8 328.32 L202.3 328.34 L202.8 328.36 L203.3 328.38 L203.8 328.4 L204.3 328.42 L204.8 328.44 L205.3 328.46 L205.8 328.48 L206.3 328.5" fill="none" stroke="#ff0a14" stroke-width="3.0" stroke-linejoin="round" stroke-linecap="round"/>
<path d="M64.4 361.9 L64.9 362.12 L65.4 362.34 L65.9 362.56 L66.4 362.76 L66.9 362.97 L67.4 363.16 L67.9 363.35 L68.4 363.52 L68.9 363.69 L69.4 363.84 L69.9 363.97 L70.4 364.1 L70.9 364.22 L71.4 364.34 L71.9 364.45 L72.4 364.56 L72.9 364.66 L73.4 364.76 L73.9 364.86 L74.4 364.95 L74.9 365.04 L75.4 365.13 L75.9 365.21 L76.4 365.29 L76.9 365.37 L77.4 365.45 L77.9 365.52 L78.4 365.59 L78.9 365.66 L79.4 365.72 L79.9 365.79 L80.4 365.85 L80.9 365.91 L81.4 365.97 L81.9 366.03 L82.4 366.08 L82.9 366.14 L83.4 366.2 L83.9 366.25 L84.4 366.3 L84.9 366.35 L85.4 366.4 L85.9 366.45 L86.4 366.5 L86.9 366.55 L87.4 366.6 L87.9 366.64 L88.4 366.69 L88.9 366.73 L89.4 366.78 L89.9 366.82 L90.4 366.86 L90.9 366.91 L91.4 366.95 L91.9 366.99 L92.4 367.03 L92.9 367.07 L93.4 367.11 L93.9 367.15 L94.4 367.19 L94.9 367.22 L95.4 367.26 L95.9 367.3 L96.4 367.34 L96.9 367.37 L97.4 367.41 L97.9 367.45 L98.4 367.48 L98.9 367.52 L99.4 367.56 L99.9 367.59 L100.4 367.63 L100.9 367.66 L101.4 367.7 L101.9 367.73 L102.4 367.77 L102.9 367.8 L103.4 367.84 L103.9 367.87 L104.4 367.9 L104.9 367.94 L105.4 367.97 L105.9 368 L106.4 368.03 L106.9 368.07 L107.4 368.1 L107.9 368.13 L108.4 368.16 L108.9 368.19 L109.4 368.22 L109.9 368.25 L110.4 368.28 L110.9 368.31 L111.4 368.34 L111.9 368.37 L112.4 368.4 L112.9 368.43 L113.4 368.45 L113.9 368.48 L114.4 368.51 L114.9 368.54 L115.4 368.57 L115.9 368.6 L116.4 368.62 L116.9 368.65 L117.4 368.68 L117.9 368.71 L118.4 368.74 L118.9 368.76 L119.4 368.79 L119.9 368.82 L120.4 368.85 L120.9 368.87 L121.4 368.9 L121.9 368.93 L122.4 368.96 L122.9 368.98 L123.4 369.01 L123.9 369.04 L124.4 369.07 L124.9 369.09 L125.4 369.12 L125.9 369.15 L126.4 369.18 L126.9 369.2 L127.4 369.23 L127.9 369.26 L128.4 369.29 L128.9 369.31 L129.4 369.34 L129.9 369.37 L130.4 369.39 L130.9 369.42 L131.4 369.45 L131.9 369.47 L132.4 369.5 L132.9 369.53 L133.4 369.55 L133.9 369.58 L134.4 369.6 L134.9 369.63 L135.4 369.66 L135.9 369.68 L136.4 369.71 L136.9 369.73 L137.4 369.76 L137.9 369.79 L138.4 369.81 L138.9 369.84 L139.4 369.86 L139.9 369.89 L140.4 369.91 L140.9 369.94 L141.4 369.96 L141.9 369.99 L142.4 370.01 L142.9 370.04 L143.4 370.07 L143.9 370.09 L144.4 370.12 L144.9 370.14 L145.4 370.17 L145.9 370.19 L146.4 370.22 L146.9 370.24 L147.4 370.27 L147.9 370.29 L148.4 370.32 L148.9 370.34 L149.4 370.37 L149.9 370.39 L150.4 370.42 L150.9 370.45 L151.4 370.47 L151.9 370.5 L152.4 370.52 L152.9 370.55 L153.4 370.57 L153.9 370.6 L154.4 370.62 L154.9 370.65 L155.4 370.68 L155.9 370.7 L156.4 370.73 L156.9 370.75 L157.4 370.78 L157.9 370.8 L158.4 370.83 L158.9 370.85 L159.4 370.88 L159.9 370.9 L160.4 370.93 L160.9 370.96 L161.4 370.98 L161.9 371.01 L162.4 371.03 L162.9 371.06 L163.4 371.08 L163.9 371.11 L164.4 371.13 L164.9 371.16 L165.4 371.18 L165.9 371.21 L166.4 371.23 L166.9 371.26 L167.4 371.28 L167.9 371.31 L168.4 371.33 L168.9 371.36 L169.4 371.38 L169.9 371.41 L170.4 371.43 L170.9 371.46 L171.4 371.48 L171.9 371.51 L172.4 371.53 L172.9 371.56 L173.4 371.58 L173.9 371.61 L174.4 371.63 L174.9 371.65 L175.4 371.68 L175.9 371.7 L176.4 371.73 L176.9 371.75 L177.4 371.78 L177.9 371.8 L178.4 371.82 L178.9 371.85 L179.4 371.87 L179.9 371.9 L180.4 371.92 L180.9 371.94 L181.4 371.97 L181.9 371.99 L182.4 372.01 L182.9 372.04 L183.4 372.06 L183.9 372.08 L184.4 372.11 L184.9 372.13 L185.4 372.16 L185.9 372.18 L186.4 372.2 L186.9 372.23 L187.4 372.25 L187.9 372.27 L188.4 372.29 L188.9 372.32 L189.4 372.34 L189.9 372.36 L190.4 372.39 L190.9 372.41 L191.4 372.43 L191.9 372.46 L192.4 372.48 L192.9 372.5 L193.4 372.52 L193.9 372.55 L194.4 372.57 L194.9 372.59 L195.4 372.62 L195.9 372.64 L196.4 372.66 L196.9 372.68 L197.4 372.71 L197.9 372.73 L198.4 372.75 L198.9 372.77 L199.4 372.8 L199.9 372.82 L200.4 372.84 L200.9 372.86 L201.4 372.88 L201.9 372.91 L202.4 372.93 L202.9 372.95 L203.4 372.97 L203.9 372.99 L204.4 373.02 L204.9 373.04 L205.4 373.06 L205.9 373.08 L206.3 373.1" fill="none" stroke="#ff0a14" stroke-width="3.0" stroke-linejoin="round" stroke-linecap="round"/>
<circle cx="65.4" cy="331" r="1.6" fill="#0a28ff"/>
<circle cx="67" cy="339.3" r="1.6" fill="#0a28ff"/>
<circle cx="68.4" cy="345.3" r="1.6" fill="#0a28ff"/>
<circle cx="70.6" cy="348.1" r="1.6" fill="#0a28ff"/>
<circle cx="72.3" cy="351" r="1.6" fill="#0a28ff"/>
<circle cx="74" cy="353.6" r="1.6" fill="#0a28ff"/>
<circle cx="75.9" cy="355.3" r="1.6" fill="#0a28ff"/>
<circle cx="74.9" cy="358.1" r="1.6" fill="#0a28ff"/>
<circle cx="73.2" cy="359" r="1.6" fill="#0a28ff"/>
<circle cx="71.6" cy="359.6" r="1.6" fill="#0a28ff"/>
<circle cx="69.8" cy="360.1" r="1.6" fill="#0a28ff"/>
<circle cx="68" cy="360.4" r="1.6" fill="#0a28ff"/>
<circle cx="65.9" cy="361" r="1.6" fill="#0a28ff"/>
<circle cx="76.8" cy="356.8" r="1.6" fill="#0a28ff"/>
<circle cx="65.4" cy="318.9" r="1.6" fill="#ff0a14"/>
<rect x="150.6" y="236.8" width="51.1" height="80" fill="#fff" stroke="#000" stroke-width="1.1"/>
<circle cx="157.6" cy="249.4" r="1.6" fill="#000"/>
<text x="168.14" y="253.9" font-size="14.6" fill="#000" stroke="#000" stroke-width="0.5" stroke-linejoin="round">S.P.</text>
<circle cx="157.6" cy="268.2" r="1.6" fill="#bfcdc8"/>
<text x="167.67" y="272.7" font-size="14.6" fill="#000" stroke="#000" stroke-width="0.5" stroke-linejoin="round">U.P.</text>
<circle cx="157.6" cy="287" r="1.6" fill="#ff0a14"/>
<text x="168.14" y="291.5" font-size="14.6" fill="#000" stroke="#000" stroke-width="0.5" stroke-linejoin="round">S.C.</text>
<circle cx="157.6" cy="305.8" r="1.6" fill="#0a28ff"/>
<text x="167.67" y="310.3" font-size="14.6" fill="#000" stroke="#000" stroke-width="0.5" stroke-linejoin="round">U.C</text>
<rect x="286.5" y="231.5" width="155" height="142.7" fill="none" stroke="#000" stroke-width="1.1"/>
<path d="M303.72 374.2v-2M303.72 231.5v2M338.17 374.2v-2M338.17 231.5v2M372.61 374.2v-2M372.61 231.5v2M407.06 374.2v-2M407.06 231.5v2M286.5 302.85h2M441.5 302.85h-2" stroke="#000" stroke-width="1.1" fill="none"/>
<text x="293.36" y="392.5" font-size="14.6" fill="#000" stroke="#000" stroke-width="0.5" stroke-linejoin="round">0.2</text>
<text x="327.65" y="392.5" font-size="14.6" fill="#000" stroke="#000" stroke-width="0.5" stroke-linejoin="round">0.4</text>
<text x="362.2" y="392.5" font-size="14.6" fill="#000" stroke="#000" stroke-width="0.5" stroke-linejoin="round">0.6</text>
<text x="396.64" y="392.5" font-size="14.6" fill="#000" stroke="#000" stroke-width="0.5" stroke-linejoin="round">0.8</text>
<mask id="m13" maskUnits="userSpaceOnUse" x="0" y="0" width="685" height="419"><rect width="685" height="419" fill="#fff"/><g fill="#000"><rect x="438.66" y="391.02" width="2.75" height="3.13"/><rect x="443.26" y="391.02" width="2.6" height="3.13"/></g></mask>
<text x="438.02" y="392.5" font-size="14.6" fill="#000" stroke="#000" stroke-width="0.5" stroke-linejoin="round" mask="url(#m13)">1</text>
<mask id="m14" maskUnits="userSpaceOnUse" x="0" y="0" width="685" height="419"><rect width="685" height="419" fill="#fff"/><g fill="#000"><rect x="274.88" y="235.12" width="2.75" height="3.13"/><rect x="279.48" y="235.12" width="2.6" height="3.13"/></g></mask>
<text x="274.24" y="236.6" font-size="14.6" fill="#000" stroke="#000" stroke-width="0.5" stroke-linejoin="round" mask="url(#m14)">1</text>
<text x="260.12" y="307.95" font-size="14.6" fill="#000" stroke="#000" stroke-width="0.5" stroke-linejoin="round">0.5</text>
<text x="273.55" y="379.3" font-size="14.6" fill="#000" stroke="#000" stroke-width="0.5" stroke-linejoin="round">0</text>
<text x="380.57" y="410.9" font-size="14.6" fill="#000" stroke="#000" stroke-width="0.5" stroke-linejoin="round">I</text>
<text x="385.07" y="416.3" font-size="8.6" fill="#000" stroke="#000" stroke-width="0.5" stroke-linejoin="round">2</text>
<text x="213.18" y="301.05" font-size="14.85" fill="#000" stroke="#000" stroke-width="0.5" stroke-linejoin="round" transform="rotate(-90 259.3 301.05)">Concentration</text>
<path d="M286.5 374 L441.5 374" fill="none" stroke="#ff0a14" stroke-width="2.2" stroke-linejoin="round" stroke-linecap="round"/>
<path d="M286.6 324.8 L287.1 317.22 L287.6 310.82 L288.1 305.32 L288.6 300.76 L289.1 297.41 L289.6 294.77 L290.1 292.27 L290.6 289.35 L291.1 285.62 L291.6 281.89 L292.1 279.11 L292.6 276.82 L293.1 274.78 L293.6 272.94 L294.1 271.28 L294.6 269.75 L295.1 268.32 L295.6 266.98 L296.1 265.72 L296.6 264.55 L297.1 263.46 L297.6 262.45 L298.1 261.52 L298.6 260.67 L299.1 259.86 L299.6 259.09 L300.1 258.35 L300.6 257.66 L301.1 257 L301.6 256.37 L302.1 255.78 L302.6 255.22 L303.1 254.7 L303.6 254.21 L304.1 253.73 L304.6 253.28 L305.1 252.84 L305.6 252.42 L306.1 252.01 L306.6 251.62 L307.1 251.25 L307.6 250.89 L308.1 250.54 L308.6 250.21 L309.1 249.89 L309.6 249.59 L310.1 249.3 L310.6 249.02 L311.1 248.75 L311.6 248.49 L312.1 248.24 L312.6 247.99 L313.1 247.75 L313.6 247.52 L314.1 247.3 L314.6 247.08 L315.1 246.87 L315.6 246.66 L316.1 246.46 L316.6 246.27 L317.1 246.08 L317.6 245.89 L318.1 245.71 L318.6 245.53 L319.1 245.35 L319.6 245.18 L320.1 245.02 L320.6 244.86 L321.1 244.7 L321.6 244.55 L322.1 244.39 L322.6 244.25 L323.1 244.1 L323.6 243.96 L324.1 243.82 L324.6 243.68 L325.1 243.55 L325.6 243.41 L326.1 243.28 L326.6 243.15 L327.1 243.02 L327.6 242.89 L328.1 242.77 L328.6 242.64 L329.1 242.51 L329.6 242.39 L330.1 242.27 L330.6 242.15 L331.1 242.03 L331.6 241.91 L332.1 241.8 L332.6 241.69 L333.1 241.59 L333.6 241.48 L334.1 241.38 L334.6 241.29 L335.1 241.2 L335.6 241.11 L336.1 241.03 L336.6 240.95 L337.1 240.87 L337.6 240.79 L338.1 240.71 L338.6 240.64 L339.1 240.56 L339.6 240.49 L340.1 240.42 L340.6 240.35 L341.1 240.29 L341.6 240.22 L342.1 240.16 L342.6 240.09 L343.1 240.03 L343.6 239.97 L344.1 239.91 L344.6 239.85 L345.1 239.79 L345.6 239.73 L346.1 239.67 L346.6 239.61 L347.1 239.56 L347.6 239.5 L348.1 239.45 L348.6 239.39 L349.1 239.34 L349.6 239.28 L350.1 239.23 L350.6 239.18 L351.1 239.13 L351.6 239.07 L352.1 239.02 L352.6 238.97 L353.1 238.92 L353.6 238.88 L354.1 238.83 L354.6 238.78 L355.1 238.73 L355.6 238.69 L356.1 238.64 L356.6 238.59 L357.1 238.55 L357.6 238.51 L358.1 238.46 L358.6 238.42 L359.1 238.38 L359.6 238.33 L360.1 238.29 L360.6 238.25 L361.1 238.21 L361.6 238.17 L362.1 238.13 L362.6 238.09 L363.1 238.05 L363.6 238.01 L364.1 237.98 L364.6 237.94 L365.1 237.9 L365.6 237.87 L366.1 237.83 L366.6 237.79 L367.1 237.76 L367.6 237.72 L368.1 237.69 L368.6 237.66 L369.1 237.62 L369.6 237.59 L370.1 237.55 L370.6 237.52 L371.1 237.49 L371.6 237.45 L372.1 237.42 L372.6 237.39 L373.1 237.35 L373.6 237.32 L374.1 237.29 L374.6 237.26 L375.1 237.22 L375.6 237.19 L376.1 237.16 L376.6 237.12 L377.1 237.09 L377.6 237.06 L378.1 237.03 L378.6 236.99 L379.1 236.96 L379.6 236.93 L380.1 236.89 L380.6 236.86 L381.1 236.83 L381.6 236.79 L382.1 236.76 L382.6 236.72 L383.1 236.69 L383.6 236.65 L384.1 236.62 L384.6 236.58 L385.1 236.54 L385.6 236.51 L386.1 236.47 L386.6 236.44 L387.1 236.4 L387.6 236.36 L388.1 236.33 L388.6 236.29 L389.1 236.25 L389.6 236.22 L390.1 236.18 L390.6 236.15 L391.1 236.11 L391.6 236.08 L392.1 236.04 L392.6 236.01 L393.1 235.97 L393.6 235.94 L394.1 235.9 L394.6 235.87 L395.1 235.84 L395.6 235.8 L396.1 235.77 L396.6 235.74 L397.1 235.71 L397.6 235.68 L398.1 235.65 L398.6 235.62 L399.1 235.59 L399.6 235.56 L400.1 235.53 L400.6 235.51 L401.1 235.48 L401.6 235.45 L402.1 235.43 L402.6 235.4 L403.1 235.38 L403.6 235.36 L404.1 235.34 L404.6 235.32 L405.1 235.3 L405.6 235.28 L406.1 235.26 L406.6 235.24 L407.1 235.22 L407.6 235.2 L408.1 235.18 L408.6 235.16 L409.1 235.14 L409.6 235.12 L410.1 235.1 L410.6 235.08 L411.1 235.06 L411.6 235.04 L412.1 235.03 L412.6 235.01 L413.1 234.99 L413.6 234.97 L414.1 234.95 L414.6 234.93 L415.1 234.92 L415.6 234.9 L416.1 234.88 L416.6 234.86 L417.1 234.85 L417.6 234.83 L418.1 234.81 L418.6 234.79 L419.1 234.78 L419.6 234.76 L420.1 234.74 L420.6 234.73 L421.1 234.71 L421.6 234.7 L422.1 234.68 L422.6 234.67 L423.1 234.65 L423.6 234.64 L424.1 234.62 L424.6 234.61 L425.1 234.59 L425.6 234.58 L426.1 234.57 L426.6 234.55 L427.1 234.54 L427.6 234.53 L428.1 234.51 L428.6 234.5 L429.1 234.49 L429.6 234.48 L430.1 234.47 L430.6 234.45 L431.1 234.44 L431.6 234.43 L432.1 234.42 L432.6 234.41 L433.1 234.4 L433.6 234.4 L434.1 234.39 L434.6 234.38 L435.1 234.37 L435.6 234.36 L436.1 234.35 L436.6 234.35 L437.1 234.34 L437.6 234.33 L438.1 234.33 L438.6 234.32 L439.1 234.32 L439.6 234.31 L440.1 234.31 L440.6 234.31 L441.1 234.3 L441.5 234.3" fill="none" stroke="#00c800" stroke-width="2.2" stroke-linejoin="round" stroke-linecap="round"/>
<path d="M286.7 357.1 L287.2 355.1 L287.7 353.22 L288.2 351.52 L288.7 349.97 L289.2 348.49 L289.7 347.14 L290.2 345.93 L290.7 344.91 L291.2 343.99 L291.7 343.13 L292.2 342.35 L292.7 341.64 L293.2 340.99 L293.7 340.4 L294.2 339.86 L294.7 339.35 L295.2 338.87 L295.7 338.42 L296.2 338 L296.7 337.61 L297.2 337.24 L297.7 336.9 L298.2 336.57 L298.7 336.27 L299.2 335.97 L299.7 335.69 L300.2 335.43 L300.7 335.17 L301.2 334.93 L301.7 334.7 L302.2 334.48 L302.7 334.27 L303.2 334.08 L303.7 333.89 L304.2 333.71 L304.7 333.54 L305.2 333.38 L305.7 333.22 L306.2 333.07 L306.7 332.93 L307.2 332.79 L307.7 332.65 L308.2 332.52 L308.7 332.4 L309.2 332.28 L309.7 332.15 L310.2 332.03 L310.7 331.91 L311.2 331.79 L311.7 331.68 L312.2 331.58 L312.7 331.48 L313.2 331.4 L313.7 331.33 L314.2 331.28 L314.7 331.23 L315.2 331.19 L315.7 331.16 L316.2 331.12 L316.7 331.09 L317.2 331.06 L317.7 331.04 L318.2 331.01 L318.7 330.98 L319.2 330.95 L319.7 330.92 L320.2 330.89 L320.7 330.85 L321.2 330.82 L321.7 330.78 L322.2 330.75 L322.7 330.71 L323.2 330.67 L323.7 330.64 L324.2 330.6 L324.7 330.56 L325.2 330.53 L325.7 330.49 L326.2 330.45 L326.7 330.41 L327.2 330.38 L327.7 330.34 L328.2 330.3 L328.7 330.26 L329.2 330.23 L329.7 330.19 L330.2 330.15 L330.7 330.12 L331.2 330.08 L331.7 330.04 L332.2 330.01 L332.7 329.97 L333.2 329.93 L333.7 329.9 L334.2 329.86 L334.7 329.83 L335.2 329.8 L335.7 329.76 L336.2 329.73 L336.7 329.7 L337.2 329.67 L337.7 329.63 L338.2 329.6 L338.7 329.57 L339.2 329.54 L339.7 329.52 L340.2 329.49 L340.7 329.46 L341.2 329.43 L341.7 329.41 L342.2 329.38 L342.7 329.35 L343.2 329.33 L343.7 329.3 L344.2 329.27 L344.7 329.25 L345.2 329.22 L345.7 329.19 L346.2 329.17 L346.7 329.14 L347.2 329.12 L347.7 329.09 L348.2 329.07 L348.7 329.04 L349.2 329.02 L349.7 328.99 L350.2 328.97 L350.7 328.95 L351.2 328.92 L351.7 328.9 L352.2 328.88 L352.7 328.86 L353.2 328.84 L353.7 328.82 L354.2 328.8 L354.7 328.78 L355.2 328.76 L355.7 328.74 L356.2 328.72 L356.7 328.7 L357.2 328.68 L357.7 328.67 L358.2 328.65 L358.7 328.64 L359.2 328.62 L359.7 328.61 L360.2 328.59 L360.7 328.58 L361.2 328.57 L361.7 328.56 L362.2 328.54 L362.7 328.53 L363.2 328.52 L363.7 328.5 L364.2 328.49 L364.7 328.48 L365.2 328.47 L365.7 328.46 L366.2 328.44 L366.7 328.43 L367.2 328.42 L367.7 328.41 L368.2 328.4 L368.7 328.39 L369.2 328.37 L369.7 328.36 L370.2 328.35 L370.7 328.34 L371.2 328.33 L371.7 328.32 L372.2 328.31 L372.7 328.3 L373.2 328.29 L373.7 328.28 L374.2 328.27 L374.7 328.26 L375.2 328.25 L375.7 328.24 L376.2 328.23 L376.7 328.22 L377.2 328.21 L377.7 328.2 L378.2 328.19 L378.7 328.18 L379.2 328.17 L379.7 328.16 L380.2 328.15 L380.7 328.14 L381.2 328.13 L381.7 328.13 L382.2 328.12 L382.7 328.11 L383.2 328.1 L383.7 328.09 L384.2 328.09 L384.7 328.08 L385.2 328.07 L385.7 328.06 L386.2 328.05 L386.7 328.05 L387.2 328.04 L387.7 328.03 L388.2 328.03 L388.7 328.02 L389.2 328.01 L389.7 328.01 L390.2 328 L390.7 327.99 L391.2 327.99 L391.7 327.98 L392.2 327.98 L392.7 327.97 L393.2 327.96 L393.7 327.96 L394.2 327.95 L394.7 327.95 L395.2 327.94 L395.7 327.94 L396.2 327.93 L396.7 327.93 L397.2 327.92 L397.7 327.92 L398.2 327.91 L398.7 327.91 L399.2 327.91 L399.7 327.9 L400.2 327.9 L400.7 327.89 L401.2 327.89 L401.7 327.89 L402.2 327.88 L402.7 327.88 L403.2 327.88 L403.7 327.87 L404.2 327.87 L404.7 327.86 L405.2 327.86 L405.7 327.86 L406.2 327.85 L406.7 327.85 L407.2 327.85 L407.7 327.84 L408.2 327.84 L408.7 327.84 L409.2 327.83 L409.7 327.83 L410.2 327.83 L410.7 327.82 L411.2 327.82 L411.7 327.82 L412.2 327.81 L412.7 327.81 L413.2 327.81 L413.7 327.8 L414.2 327.8 L414.7 327.8 L415.2 327.79 L415.7 327.79 L416.2 327.79 L416.7 327.78 L417.2 327.78 L417.7 327.78 L418.2 327.77 L418.7 327.77 L419.2 327.77 L419.7 327.77 L420.2 327.76 L420.7 327.76 L421.2 327.76 L421.7 327.76 L422.2 327.75 L422.7 327.75 L423.2 327.75 L423.7 327.75 L424.2 327.74 L424.7 327.74 L425.2 327.74 L425.7 327.74 L426.2 327.73 L426.7 327.73 L427.2 327.73 L427.7 327.73 L428.2 327.73 L428.7 327.72 L429.2 327.72 L429.7 327.72 L430.2 327.72 L430.7 327.72 L431.2 327.72 L431.7 327.71 L432.2 327.71 L432.7 327.71 L433.2 327.71 L433.7 327.71 L434.2 327.71 L434.7 327.71 L435.2 327.71 L435.7 327.71 L436.2 327.7 L436.7 327.7 L437.2 327.7 L437.7 327.7 L438.2 327.7 L438.7 327.7 L439.2 327.7 L439.7 327.7 L440.2 327.7 L440.7 327.7 L441.2 327.7 L441.5 327.7" fill="none" stroke="#0a28ff" stroke-width="2.2" stroke-linejoin="round" stroke-linecap="round"/>
<path d="M286.6 350.6 L287.1 350.1 L287.6 349.64 L288.1 349.29 L288.6 349.09 L289.1 348.92 L289.6 348.78 L290.1 348.65 L290.6 348.55 L291.1 348.45 L291.6 348.36 L292.1 348.28 L292.6 348.2 L293.1 348.12 L293.6 348.04 L294.1 347.96 L294.6 347.89 L295.1 347.81 L295.6 347.75 L296.1 347.68 L296.6 347.62 L297.1 347.57 L297.6 347.51 L298.1 347.47 L298.6 347.43 L299.1 347.4 L299.6 347.37 L300.1 347.34 L300.6 347.32 L301.1 347.29 L301.6 347.27 L302.1 347.24 L302.6 347.22 L303.1 347.2 L303.6 347.17 L304.1 347.15 L304.6 347.13 L305.1 347.11 L305.6 347.09 L306.1 347.07 L306.6 347.06 L307.1 347.04 L307.6 347.02 L308.1 347.01 L308.6 346.99 L309.1 346.98 L309.6 346.97 L310.1 346.96 L310.6 346.95 L311.1 346.94 L311.6 346.93 L312.1 346.92 L312.6 346.91 L313.1 346.91 L313.6 346.9 L314.1 346.9 L314.6 346.9 L315.1 346.89 L315.6 346.89 L316.1 346.89 L316.6 346.88 L317.1 346.88 L317.6 346.88 L318.1 346.87 L318.6 346.87 L319.1 346.87 L319.6 346.87 L320.1 346.86 L320.6 346.86 L321.1 346.86 L321.6 346.86 L322.1 346.85 L322.6 346.85 L323.1 346.85 L323.6 346.85 L324.1 346.85 L324.6 346.84 L325.1 346.84 L325.6 346.84 L326.1 346.84 L326.6 346.84 L327.1 346.84 L327.6 346.84 L328.1 346.83 L328.6 346.83 L329.1 346.83 L329.6 346.83 L330.1 346.83 L330.6 346.83 L331.1 346.83 L331.6 346.82 L332.1 346.82 L332.6 346.82 L333.1 346.82 L333.6 346.82 L334.1 346.82 L334.6 346.82 L335.1 346.81 L335.6 346.81 L336.1 346.81 L336.6 346.81 L337.1 346.81 L337.6 346.81 L338.1 346.81 L338.6 346.8 L339.1 346.8 L339.6 346.8 L340.1 346.8 L340.6 346.8 L341.1 346.8 L341.6 346.79 L342.1 346.79 L342.6 346.79 L343.1 346.79 L343.6 346.79 L344.1 346.79 L344.6 346.78 L345.1 346.78 L345.6 346.78 L346.1 346.78 L346.6 346.78 L347.1 346.78 L347.6 346.77 L348.1 346.77 L348.6 346.77 L349.1 346.77 L349.6 346.77 L350.1 346.77 L350.6 346.76 L351.1 346.76 L351.6 346.76 L352.1 346.76 L352.6 346.76 L353.1 346.76 L353.6 346.75 L354.1 346.75 L354.6 346.75 L355.1 346.75 L355.6 346.75 L356.1 346.75 L356.6 346.74 L357.1 346.74 L357.6 346.74 L358.1 346.74 L358.6 346.74 L359.1 346.74 L359.6 346.73 L360.1 346.73 L360.6 346.73 L361.1 346.73 L361.6 346.73 L362.1 346.73 L362.6 346.72 L363.1 346.72 L363.6 346.72 L364.1 346.72 L364.6 346.72 L365.1 346.72 L365.6 346.71 L366.1 346.71 L366.6 346.71 L367.1 346.71 L367.6 346.71 L368.1 346.71 L368.6 346.7 L369.1 346.7 L369.6 346.7 L370.1 346.7 L370.6 346.7 L371.1 346.7 L371.6 346.69 L372.1 346.69 L372.6 346.69 L373.1 346.69 L373.6 346.69 L374.1 346.69 L374.6 346.69 L375.1 346.68 L375.6 346.68 L376.1 346.68 L376.6 346.68 L377.1 346.68 L377.6 346.68 L378.1 346.67 L378.6 346.67 L379.1 346.67 L379.6 346.67 L380.1 346.67 L380.6 346.67 L381.1 346.66 L381.6 346.66 L382.1 346.66 L382.6 346.66 L383.1 346.66 L383.6 346.66 L384.1 346.66 L384.6 346.65 L385.1 346.65 L385.6 346.65 L386.1 346.65 L386.6 346.65 L387.1 346.65 L387.6 346.64 L388.1 346.64 L388.6 346.64 L389.1 346.64 L389.6 346.64 L390.1 346.64 L390.6 346.64 L391.1 346.63 L391.6 346.63 L392.1 346.63 L392.6 346.63 L393.1 346.63 L393.6 346.63 L394.1 346.62 L394.6 346.62 L395.1 346.62 L395.6 346.62 L396.1 346.62 L396.6 346.62 L397.1 346.62 L397.6 346.61 L398.1 346.61 L398.6 346.61 L399.1 346.61 L399.6 346.61 L400.1 346.61 L400.6 346.61 L401.1 346.6 L401.6 346.6 L402.1 346.6 L402.6 346.6 L403.1 346.6 L403.6 346.6 L404.1 346.6 L404.6 346.59 L405.1 346.59 L405.6 346.59 L406.1 346.59 L406.6 346.59 L407.1 346.59 L407.6 346.59 L408.1 346.58 L408.6 346.58 L409.1 346.58 L409.6 346.58 L410.1 346.58 L410.6 346.58 L411.1 346.58 L411.6 346.57 L412.1 346.57 L412.6 346.57 L413.1 346.57 L413.6 346.57 L414.1 346.57 L414.6 346.57 L415.1 346.57 L415.6 346.56 L416.1 346.56 L416.6 346.56 L417.1 346.56 L417.6 346.56 L418.1 346.56 L418.6 346.56 L419.1 346.55 L419.6 346.55 L420.1 346.55 L420.6 346.55 L421.1 346.55 L421.6 346.55 L422.1 346.55 L422.6 346.55 L423.1 346.54 L423.6 346.54 L424.1 346.54 L424.6 346.54 L425.1 346.54 L425.6 346.54 L426.1 346.54 L426.6 346.54 L427.1 346.53 L427.6 346.53 L428.1 346.53 L428.6 346.53 L429.1 346.53 L429.6 346.53 L430.1 346.53 L430.6 346.53 L431.1 346.52 L431.6 346.52 L432.1 346.52 L432.6 346.52 L433.1 346.52 L433.6 346.52 L434.1 346.52 L434.6 346.52 L435.1 346.51 L435.6 346.51 L436.1 346.51 L436.6 346.51 L437.1 346.51 L437.6 346.51 L438.1 346.51 L438.6 346.51 L439.1 346.51 L439.6 346.5 L440.1 346.5 L440.6 346.5 L441.1 346.5 L441.5 346.5" fill="none" stroke="#000" stroke-width="2.2" stroke-linejoin="round" stroke-linecap="round"/>
<text x="414.3" y="248.5" font-size="14.6" fill="#000" stroke="#000" stroke-width="0.5" stroke-linejoin="round">R</text>
<text x="425.37" y="253.3" font-size="8.6" fill="#000" stroke="#000" stroke-width="0.5" stroke-linejoin="round">2</text>
<text x="414.6" y="316.6" font-size="14.6" fill="#000" stroke="#000" stroke-width="0.5" stroke-linejoin="round">R</text>
<mask id="m15" maskUnits="userSpaceOnUse" x="0" y="0" width="685" height="419"><rect width="685" height="419" fill="#fff"/><g fill="#000"><rect x="425.85" y="320.79" width="1.62" height="2.66"/><rect x="428.56" y="320.79" width="1.53" height="2.66"/></g></mask>
<text x="425.47" y="321.8" font-size="8.6" fill="#000" stroke="#000" stroke-width="0.5" stroke-linejoin="round" mask="url(#m15)">1</text>
<text x="414.61" y="343.5" font-size="14.6" fill="#000" stroke="#000" stroke-width="0.5" stroke-linejoin="round">O</text>
<text x="414.1" y="368" font-size="14.6" fill="#000" stroke="#000" stroke-width="0.5" stroke-linejoin="round">R</text>
<text x="425.77" y="372.3" font-size="8.6" fill="#000" stroke="#000" stroke-width="0.5" stroke-linejoin="round">3</text>
<rect x="519.4" y="229" width="155" height="143.1" fill="none" stroke="#000" stroke-width="1.1"/>
<path d="M536.62 372.1v-2M536.62 229v2M571.07 372.1v-2M571.07 229v2M605.51 372.1v-2M605.51 229v2M639.96 372.1v-2M639.96 229v2M519.4 300.55h2M674.4 300.55h-2" stroke="#000" stroke-width="1.1" fill="none"/>
<text x="526.26" y="390.4" font-size="14.6" fill="#000" stroke="#000" stroke-width="0.5" stroke-linejoin="round">0.2</text>
<text x="560.55" y="390.4" font-size="14.6" fill="#000" stroke="#000" stroke-width="0.5" stroke-linejoin="round">0.4</text>
<text x="595.1" y="390.4" font-size="14.6" fill="#000" stroke="#000" stroke-width="0.5" stroke-linejoin="round">0.6</text>
<text x="629.54" y="390.4" font-size="14.6" fill="#000" stroke="#000" stroke-width="0.5" stroke-linejoin="round">0.8</text>
<mask id="m16" maskUnits="userSpaceOnUse" x="0" y="0" width="685" height="419"><rect width="685" height="419" fill="#fff"/><g fill="#000"><rect x="671.56" y="388.92" width="2.75" height="3.13"/><rect x="676.16" y="388.92" width="2.6" height="3.13"/></g></mask>
<text x="670.92" y="390.4" font-size="14.6" fill="#000" stroke="#000" stroke-width="0.5" stroke-linejoin="round" mask="url(#m16)">1</text>
<mask id="m17" maskUnits="userSpaceOnUse" x="0" y="0" width="685" height="419"><rect width="685" height="419" fill="#fff"/><g fill="#000"><rect x="507.78" y="232.62" width="2.75" height="3.13"/><rect x="512.38" y="232.62" width="2.6" height="3.13"/></g></mask>
<text x="507.14" y="234.1" font-size="14.6" fill="#000" stroke="#000" stroke-width="0.5" stroke-linejoin="round" mask="url(#m17)">1</text>
<text x="493.02" y="305.65" font-size="14.6" fill="#000" stroke="#000" stroke-width="0.5" stroke-linejoin="round">0.5</text>
<text x="506.45" y="377.2" font-size="14.6" fill="#000" stroke="#000" stroke-width="0.5" stroke-linejoin="round">0</text>
<text x="591.47" y="408.5" font-size="14.6" fill="#000" stroke="#000" stroke-width="0.5" stroke-linejoin="round">I</text>
<text x="595.97" y="413.9" font-size="8.6" fill="#000" stroke="#000" stroke-width="0.5" stroke-linejoin="round">3</text>
<text x="443.88" y="305.85" font-size="14.85" fill="#000" stroke="#000" stroke-width="0.5" stroke-linejoin="round" transform="rotate(-90 490 305.85)">Concentration</text>
<path d="M519.4 323 L674.4 323" fill="none" stroke="#00c800" stroke-width="2.2" stroke-linejoin="round" stroke-linecap="round"/>
<path d="M519.6 355.8 L520.1 355.86 L520.6 355.93 L521.1 355.99 L521.6 356.05 L522.1 356.12 L522.6 356.18 L523.1 356.24 L523.6 356.31 L524.1 356.37 L524.6 356.43 L525.1 356.5 L525.6 356.56 L526.1 356.62 L526.6 356.69 L527.1 356.75 L527.6 356.81 L528.1 356.88 L528.6 356.94 L529.1 357 L529.6 357.07 L530.1 357.13 L530.6 357.2 L531.1 357.26 L531.6 357.32 L532.1 357.39 L532.6 357.45 L533.1 357.51 L533.6 357.58 L534.1 357.64 L534.6 357.71 L535.1 357.77 L535.6 357.83 L536.1 357.9 L536.6 357.96 L537.1 358.03 L537.6 358.09 L538.1 358.16 L538.6 358.22 L539.1 358.28 L539.6 358.35 L540.1 358.41 L540.6 358.48 L541.1 358.54 L541.6 358.6 L542.1 358.67 L542.6 358.73 L543.1 358.79 L543.6 358.86 L544.1 358.92 L544.6 358.98 L545.1 359.04 L545.6 359.11 L546.1 359.17 L546.6 359.23 L547.1 359.29 L547.6 359.36 L548.1 359.42 L548.6 359.48 L549.1 359.54 L549.6 359.61 L550.1 359.67 L550.6 359.73 L551.1 359.8 L551.6 359.86 L552.1 359.93 L552.6 359.99 L553.1 360.06 L553.6 360.12 L554.1 360.19 L554.6 360.25 L555.1 360.32 L555.6 360.39 L556.1 360.45 L556.6 360.52 L557.1 360.59 L557.6 360.66 L558.1 360.73 L558.6 360.8 L559.1 360.87 L559.6 360.94 L560.1 361.01 L560.6 361.09 L561.1 361.16 L561.6 361.24 L562.1 361.32 L562.6 361.39 L563.1 361.47 L563.6 361.55 L564.1 361.63 L564.6 361.71 L565.1 361.8 L565.6 361.88 L566.1 361.96 L566.6 362.05 L567.1 362.13 L567.6 362.22 L568.1 362.3 L568.6 362.39 L569.1 362.47 L569.6 362.56 L570.1 362.64 L570.6 362.73 L571.1 362.82 L571.6 362.9 L572.1 362.99 L572.6 363.08 L573.1 363.16 L573.6 363.25 L574.1 363.33 L574.6 363.42 L575.1 363.5 L575.6 363.59 L576.1 363.67 L576.6 363.75 L577.1 363.84 L577.6 363.92 L578.1 364 L578.6 364.08 L579.1 364.16 L579.6 364.24 L580.1 364.32 L580.6 364.39 L581.1 364.47 L581.6 364.55 L582.1 364.62 L582.6 364.7 L583.1 364.77 L583.6 364.85 L584.1 364.92 L584.6 365 L585.1 365.07 L585.6 365.15 L586.1 365.22 L586.6 365.29 L587.1 365.37 L587.6 365.44 L588.1 365.51 L588.6 365.58 L589.1 365.66 L589.6 365.73 L590.1 365.8 L590.6 365.87 L591.1 365.94 L591.6 366.02 L592.1 366.09 L592.6 366.16 L593.1 366.23 L593.6 366.3 L594.1 366.37 L594.6 366.44 L595.1 366.51 L595.6 366.58 L596.1 366.65 L596.6 366.72 L597.1 366.79 L597.6 366.86 L598.1 366.93 L598.6 367 L599.1 367.07 L599.6 367.14 L600.1 367.21 L600.6 367.28 L601.1 367.36 L601.6 367.43 L602.1 367.5 L602.6 367.57 L603.1 367.65 L603.6 367.72 L604.1 367.79 L604.6 367.87 L605.1 367.94 L605.6 368.02 L606.1 368.09 L606.6 368.17 L607.1 368.24 L607.6 368.31 L608.1 368.39 L608.6 368.46 L609.1 368.53 L609.6 368.61 L610.1 368.68 L610.6 368.75 L611.1 368.82 L611.6 368.89 L612.1 368.96 L612.6 369.03 L613.1 369.1 L613.6 369.16 L614.1 369.23 L614.6 369.29 L615.1 369.36 L615.6 369.42 L616.1 369.48 L616.6 369.54 L617.1 369.6 L617.6 369.65 L618.1 369.71 L618.6 369.76 L619.1 369.81 L619.6 369.86 L620.1 369.91 L620.6 369.96 L621.1 370 L621.6 370.05 L622.1 370.09 L622.6 370.14 L623.1 370.18 L623.6 370.22 L624.1 370.27 L624.6 370.31 L625.1 370.35 L625.6 370.39 L626.1 370.43 L626.6 370.47 L627.1 370.51 L627.6 370.55 L628.1 370.58 L628.6 370.62 L629.1 370.66 L629.6 370.69 L630.1 370.72 L630.6 370.76 L631.1 370.79 L631.6 370.82 L632.1 370.85 L632.6 370.88 L633.1 370.9 L633.6 370.93 L634.1 370.96 L634.6 370.98 L635.1 371 L635.6 371.03 L636.1 371.05 L636.6 371.07 L637.1 371.1 L637.6 371.12 L638.1 371.14 L638.6 371.16 L639.1 371.18 L639.6 371.21 L640.1 371.23 L640.6 371.25 L641.1 371.27 L641.6 371.29 L642.1 371.31 L642.6 371.32 L643.1 371.34 L643.6 371.36 L644.1 371.38 L644.6 371.39 L645.1 371.41 L645.6 371.42 L646.1 371.43 L646.6 371.45 L647.1 371.46 L647.6 371.47 L648.1 371.48 L648.6 371.48 L649.1 371.49 L649.6 371.5 L650.1 371.5 L650.6 371.5 L651.1 371.51 L651.6 371.51 L652.1 371.52 L652.6 371.52 L653.1 371.52 L653.6 371.53 L654.1 371.53 L654.6 371.53 L655.1 371.54 L655.6 371.54 L656.1 371.54 L656.6 371.55 L657.1 371.55 L657.6 371.55 L658.1 371.55 L658.6 371.56 L659.1 371.56 L659.6 371.56 L660.1 371.56 L660.6 371.57 L661.1 371.57 L661.6 371.57 L662.1 371.57 L662.6 371.58 L663.1 371.58 L663.6 371.58 L664.1 371.58 L664.6 371.58 L665.1 371.58 L665.6 371.59 L666.1 371.59 L666.6 371.59 L667.1 371.59 L667.6 371.59 L668.1 371.59 L668.6 371.59 L669.1 371.6 L669.6 371.6 L670.1 371.6 L670.6 371.6 L671.1 371.6 L671.6 371.6 L672.1 371.6 L672.6 371.6 L673.1 371.6 L673.6 371.6 L674.1 371.6 L674.2 371.6" fill="none" stroke="#0a28ff" stroke-width="2.2" stroke-linejoin="round" stroke-linecap="round"/>
<path d="M519.6 371.9 L520.1 371.9 L520.6 371.9 L521.1 371.9 L521.6 371.9 L522.1 371.9 L522.6 371.9 L523.1 371.9 L523.6 371.9 L524.1 371.9 L524.6 371.9 L525.1 371.9 L525.6 371.9 L526.1 371.9 L526.6 371.9 L527.1 371.9 L527.6 371.9 L528.1 371.9 L528.6 371.9 L529.1 371.9 L529.6 371.9 L530.1 371.9 L530.6 371.9 L531.1 371.9 L531.6 371.9 L532.1 371.9 L532.6 371.9 L533.1 371.9 L533.6 371.9 L534.1 371.9 L534.6 371.9 L535.1 371.9 L535.6 371.9 L536.1 371.9 L536.6 371.9 L537.1 371.9 L537.6 371.9 L538.1 371.9 L538.6 371.9 L539.1 371.9 L539.6 371.9 L540.1 371.9 L540.6 371.9 L541.1 371.9 L541.6 371.9 L542.1 371.9 L542.6 371.9 L543.1 371.9 L543.6 371.9 L544.1 371.9 L544.6 371.9 L545.1 371.9 L545.6 371.9 L546.1 371.9 L546.6 371.9 L547.1 371.9 L547.6 371.9 L548.1 371.9 L548.6 371.9 L549.1 371.9 L549.6 371.9 L550.1 371.9 L550.6 371.9 L551.1 371.9 L551.6 371.9 L552.1 371.9 L552.6 371.9 L553.1 371.9 L553.6 371.9 L554.1 371.9 L554.6 371.9 L555.1 371.9 L555.6 371.9 L556.1 371.9 L556.6 371.9 L557.1 371.9 L557.6 371.9 L558.1 371.9 L558.6 371.9 L559.1 371.9 L559.6 371.9 L560.1 371.9 L560.6 371.9 L561.1 371.9 L561.6 371.9 L562.1 371.9 L562.6 371.9 L563.1 371.9 L563.6 371.9 L564.1 371.9 L564.6 371.9 L565.1 371.9 L565.6 371.9 L566.1 371.9 L566.6 371.9 L567.1 371.9 L567.6 371.9 L568.1 371.9 L568.6 371.9 L569.1 371.9 L569.6 371.9 L570.1 371.9 L570.6 371.9 L571.1 371.9 L571.6 371.9 L572.1 371.9 L572.6 371.9 L573.1 371.9 L573.6 371.9 L574.1 371.9 L574.6 371.9 L575.1 371.9 L575.6 371.9 L576.1 371.9 L576.6 371.9 L577.1 371.9 L577.6 371.9 L578.1 371.9 L578.6 371.9 L579.1 371.9 L579.6 371.9 L580.1 371.9 L580.6 371.9 L581.1 371.9 L581.6 371.9 L582.1 371.9 L582.6 371.9 L583.1 371.9 L583.6 371.9 L584.1 371.9 L584.6 371.9 L585.1 371.9 L585.6 371.9 L586.1 371.9 L586.6 371.9 L587.1 371.9 L587.6 371.9 L588.1 371.9 L588.6 371.9 L589.1 371.9 L589.6 371.9 L590.1 371.9 L590.6 371.9 L591.1 371.9 L591.6 371.9 L592.1 371.9 L592.6 371.9 L593.1 371.9 L593.6 371.9 L594.1 371.9 L594.6 371.9 L595.1 371.9 L595.6 371.9 L596.1 371.9 L596.6 371.9 L597.1 371.9 L597.6 371.9 L598.1 371.9 L598.6 371.9 L599.1 371.9 L599.6 371.9 L600.1 371.9 L600.6 371.9 L601.1 371.9 L601.6 371.9 L602.1 371.9 L602.6 371.9 L603.1 371.89 L603.6 371.89 L604.1 371.89 L604.6 371.89 L605.1 371.88 L605.6 371.88 L606.1 371.88 L606.6 371.87 L607.1 371.87 L607.6 371.87 L608.1 371.86 L608.6 371.86 L609.1 371.85 L609.6 371.85 L610.1 371.84 L610.6 371.83 L611.1 371.83 L611.6 371.82 L612.1 371.82 L612.6 371.81 L613.1 371.8 L613.6 371.8 L614.1 371.79 L614.6 371.78 L615.1 371.77 L615.6 371.77 L616.1 371.76 L616.6 371.75 L617.1 371.74 L617.6 371.74 L618.1 371.73 L618.6 371.72 L619.1 371.71 L619.6 371.7 L620.1 371.69 L620.6 371.68 L621.1 371.67 L621.6 371.66 L622.1 371.66 L622.6 371.65 L623.1 371.64 L623.6 371.63 L624.1 371.62 L624.6 371.61 L625.1 371.6 L625.6 371.59 L626.1 371.58 L626.6 371.57 L627.1 371.55 L627.6 371.54 L628.1 371.53 L628.6 371.51 L629.1 371.5 L629.6 371.48 L630.1 371.46 L630.6 371.45 L631.1 371.43 L631.6 371.41 L632.1 371.39 L632.6 371.37 L633.1 371.35 L633.6 371.33 L634.1 371.3 L634.6 371.28 L635.1 371.26 L635.6 371.23 L636.1 371.2 L636.6 371.18 L637.1 371.15 L637.6 371.12 L638.1 371.09 L638.6 371.06 L639.1 371.03 L639.6 370.99 L640.1 370.96 L640.6 370.91 L641.1 370.86 L641.6 370.81 L642.1 370.75 L642.6 370.69 L643.1 370.62 L643.6 370.55 L644.1 370.48 L644.6 370.41 L645.1 370.33 L645.6 370.26 L646.1 370.19 L646.6 370.11 L647.1 370.03 L647.6 369.95 L648.1 369.87 L648.6 369.79 L649.1 369.7 L649.6 369.6 L650.1 369.5 L650.6 369.39 L651.1 369.28 L651.6 369.15 L652.1 369.01 L652.6 368.87 L653.1 368.71 L653.6 368.54 L654.1 368.35 L654.6 368.16 L655.1 367.96 L655.6 367.74 L656.1 367.49 L656.6 367.23 L657.1 366.94 L657.6 366.64 L658.1 366.33 L658.6 366 L658.6 366 L658.65 365.97 L658.7 365.93 L658.75 365.89 L658.8 365.85 L658.85 365.81 L658.9 365.76 L658.95 365.71 L659 365.65 L659.05 365.59 L659.1 365.53 L659.15 365.47 L659.2 365.41 L659.25 365.34 L659.3 365.27 L659.35 365.19 L659.4 365.12 L659.45 365.04 L659.5 364.96 L659.55 364.87 L659.6 364.79 L659.65 364.7 L659.7 364.61 L659.75 364.52 L659.8 364.43 L659.85 364.34 L659.9 364.24 L659.95 364.14 L660 364.05 L660.05 363.95 L660.1 363.84 L660.15 363.74 L660.2 363.64 L660.25 363.53 L660.3 363.43 L660.35 363.32 L660.4 363.22 L660.45 363.11 L660.5 363 L660.55 362.89 L660.6 362.77 L660.65 362.65 L660.7 362.53 L660.75 362.4 L660.8 362.27 L660.85 362.14 L660.9 362 L660.95 361.85 L661 361.7 L661.05 361.55 L661.1 361.4 L661.15 361.24 L661.2 361.08 L661.25 360.91 L661.3 360.74 L661.35 360.57 L661.4 360.39 L661.45 360.21 L661.5 360.02 L661.55 359.83 L661.6 359.64 L661.65 359.45 L661.7 359.25 L661.75 359.05 L661.8 358.85 L661.85 358.64 L661.9 358.43 L661.95 358.22 L662 358 L662.05 357.78 L662.1 357.55 L662.15 357.31 L662.2 357.06 L662.25 356.8 L662.3 356.54 L662.35 356.27 L662.4 355.99 L662.45 355.7 L662.5 355.41 L662.55 355.11 L662.6 354.8 L662.65 354.49 L662.7 354.17 L662.75 353.85 L662.8 353.52 L662.85 353.19 L662.9 352.85 L662.95 352.51 L663 352.16 L663.05 351.81 L663.1 351.45 L663.15 351.09 L663.2 350.73 L663.25 350.37 L663.3 350 L663.35 349.64 L663.4 349.29 L663.45 348.94 L663.5 348.6 L663.55 348.26 L663.6 347.92 L663.65 347.58 L663.7 347.23 L663.75 346.87 L663.8 346.5 L663.85 346.11 L663.9 345.71 L663.95 345.28 L664 344.83 L664.05 344.35 L664.1 343.84 L664.15 343.3 L664.2 342.72 L664.25 342.11 L664.3 341.45 L664.35 340.75 L664.4 340 L664.45 339.02 L664.5 337.67 L664.55 336.04 L664.6 334.19 L664.65 332.21 L664.7 330.18 L664.75 328.16 L664.8 326.24 L664.85 324.5 L664.9 323 L664.95 321.7 L665 320.47 L665.05 319.31 L665.1 318.2 L665.15 317.13 L665.2 316.09 L665.25 315.07 L665.3 314.05 L665.35 313.02 L665.4 311.98 L665.45 310.91 L665.5 309.8 L665.55 308.64 L665.6 307.44 L665.65 306.2 L665.7 304.95 L665.75 303.68 L665.8 302.4 L665.85 301.14 L665.9 299.89 L665.95 298.67 L666 297.48 L666.05 296.35 L666.1 295.26 L666.15 294.24 L666.2 293.3 L666.25 292.41 L666.3 291.54 L666.35 290.69 L666.4 289.86 L666.45 289.05 L666.5 288.27 L666.55 287.51 L666.6 286.77 L666.65 286.05 L666.7 285.36 L666.75 284.69 L666.8 284.04 L666.85 283.42 L666.9 282.82 L666.95 282.25 L667 281.7 L667.05 281.17 L667.1 280.65 L667.15 280.15 L667.2 279.65 L667.25 279.17 L667.3 278.7 L667.35 278.25 L667.4 277.8 L667.45 277.37 L667.5 276.95 L667.55 276.54 L667.6 276.14 L667.65 275.75 L667.7 275.37 L667.75 275 L667.8 274.64 L667.85 274.29 L667.9 273.95 L667.95 273.62 L668 273.3 L668.05 272.99 L668.1 272.68 L668.15 272.38 L668.2 272.09 L668.25 271.81 L668.3 271.53 L668.35 271.25 L668.4 270.98 L668.45 270.72 L668.5 270.46 L668.55 270.21 L668.6 269.96 L668.65 269.71 L668.7 269.47 L668.75 269.23 L668.8 268.99 L668.85 268.76 L668.9 268.53 L668.95 268.31 L669 268.08 L669.05 267.86 L669.1 267.64 L669.15 267.42 L669.2 267.2 L669.25 266.98 L669.3 266.76 L669.35 266.54 L669.4 266.32 L669.45 266.11 L669.5 265.89 L669.55 265.67 L669.6 265.45 L669.65 265.22 L669.7 265 L669.75 264.77 L669.8 264.55 L669.85 264.32 L669.9 264.09 L669.95 263.86 L670 263.63 L670.05 263.41 L670.1 263.18 L670.15 262.95 L670.2 262.72 L670.25 262.49 L670.3 262.26 L670.35 262.03 L670.4 261.8 L670.45 261.58 L670.5 261.35 L670.55 261.13 L670.6 260.91 L670.65 260.69 L670.7 260.47 L670.75 260.25 L670.8 260.04 L670.85 259.82 L670.9 259.61 L670.95 259.41 L671 259.2 L671.05 259 L671.1 258.8 L671.15 258.6 L671.2 258.41 L671.25 258.22 L671.3 258.04 L671.35 257.85 L671.4 257.68 L671.45 257.5 L671.5 257.33 L671.55 257.17 L671.6 257.01 L671.65 256.85 L671.7 256.7 L671.75 256.55 L671.8 256.4 L671.85 256.26 L671.9 256.11 L671.95 255.97 L672 255.82 L672.05 255.68 L672.1 255.54 L672.15 255.39 L672.2 255.25 L672.25 255.11 L672.3 254.98 L672.35 254.84 L672.4 254.7 L672.45 254.57 L672.5 254.43 L672.55 254.3 L672.6 254.17 L672.65 254.04 L672.7 253.91 L672.75 253.79 L672.8 253.66 L672.85 253.54 L672.9 253.42 L672.95 253.29 L673 253.18 L673.05 253.06 L673.1 252.94 L673.15 252.83 L673.2 252.72 L673.25 252.61 L673.3 252.5 L673.35 252.39 L673.4 252.29 L673.45 252.19 L673.5 252.09 L673.55 251.99 L673.6 251.89 L673.65 251.8 L673.7 251.71 L673.75 251.62 L673.8 251.53 L673.85 251.45 L673.9 251.37 L673.95 251.29 L674 251.21 L674.05 251.13 L674.1 251.06 L674.15 250.99 L674.2 250.93 L674.25 250.86 L674.3 250.8" fill="none" stroke="#ff0a14" stroke-width="2.2" stroke-linejoin="round" stroke-linecap="round"/>
<path d="M519.6 346.9 L520.1 346.21 L520.6 345.53 L521.1 344.84 L521.6 344.16 L522.1 343.47 L522.6 342.79 L523.1 342.11 L523.6 341.43 L524.1 340.75 L524.6 340.07 L525.1 339.4 L525.6 338.72 L526.1 338.05 L526.6 337.38 L527.1 336.7 L527.6 336.04 L528.1 335.37 L528.6 334.7 L529.1 334.03 L529.6 333.37 L530.1 332.71 L530.6 332.05 L531.1 331.39 L531.6 330.74 L532.1 330.08 L532.6 329.42 L533.1 328.77 L533.6 328.11 L534.1 327.46 L534.6 326.81 L535.1 326.15 L535.6 325.5 L536.1 324.84 L536.6 324.18 L537.1 323.53 L537.6 322.87 L538.1 322.21 L538.6 321.55 L539.1 320.88 L539.6 320.22 L540.1 319.56 L540.6 318.89 L541.1 318.22 L541.6 317.56 L542.1 316.89 L542.6 316.23 L543.1 315.56 L543.6 314.89 L544.1 314.23 L544.6 313.57 L545.1 312.9 L545.6 312.24 L546.1 311.58 L546.6 310.92 L547.1 310.27 L547.6 309.61 L548.1 308.96 L548.6 308.31 L549.1 307.66 L549.6 307.01 L550.1 306.37 L550.6 305.73 L551.1 305.09 L551.6 304.45 L552.1 303.82 L552.6 303.18 L553.1 302.55 L553.6 301.92 L554.1 301.29 L554.6 300.66 L555.1 300.03 L555.6 299.41 L556.1 298.78 L556.6 298.16 L557.1 297.54 L557.6 296.93 L558.1 296.31 L558.6 295.7 L559.1 295.09 L559.6 294.48 L560.1 293.88 L560.6 293.28 L561.1 292.68 L561.6 292.08 L562.1 291.48 L562.6 290.89 L563.1 290.3 L563.6 289.71 L564.1 289.12 L564.6 288.53 L565.1 287.94 L565.6 287.36 L566.1 286.78 L566.6 286.2 L567.1 285.62 L567.6 285.04 L568.1 284.46 L568.6 283.88 L569.1 283.31 L569.6 282.73 L570.1 282.16 L570.6 281.59 L571.1 281.01 L571.6 280.44 L572.1 279.87 L572.6 279.3 L573.1 278.73 L573.6 278.16 L574.1 277.58 L574.6 277 L575.1 276.42 L575.6 275.84 L576.1 275.25 L576.6 274.67 L577.1 274.08 L577.6 273.5 L578.1 272.91 L578.6 272.33 L579.1 271.75 L579.6 271.17 L580.1 270.6 L580.6 270.03 L581.1 269.46 L581.6 268.9 L582.1 268.35 L582.6 267.8 L583.1 267.26 L583.6 266.73 L584.1 266.2 L584.6 265.69 L585.1 265.18 L585.6 264.69 L586.1 264.2 L586.6 263.73 L587.1 263.25 L587.6 262.78 L588.1 262.32 L588.6 261.86 L589.1 261.4 L589.6 260.95 L590.1 260.5 L590.6 260.05 L591.1 259.61 L591.6 259.17 L592.1 258.74 L592.6 258.31 L593.1 257.88 L593.6 257.46 L594.1 257.04 L594.6 256.63 L595.1 256.22 L595.6 255.81 L596.1 255.41 L596.6 255.01 L597.1 254.62 L597.6 254.23 L598.1 253.84 L598.6 253.46 L599.1 253.08 L599.6 252.71 L600.1 252.34 L600.6 251.97 L601.1 251.61 L601.6 251.25 L602.1 250.9 L602.6 250.55 L603.1 250.2 L603.6 249.85 L604.1 249.51 L604.6 249.17 L605.1 248.82 L605.6 248.49 L606.1 248.15 L606.6 247.82 L607.1 247.49 L607.6 247.16 L608.1 246.84 L608.6 246.51 L609.1 246.2 L609.6 245.88 L610.1 245.57 L610.6 245.26 L611.1 244.96 L611.6 244.66 L612.1 244.36 L612.6 244.07 L613.1 243.78 L613.6 243.49 L614.1 243.21 L614.6 242.94 L615.1 242.67 L615.6 242.4 L616.1 242.14 L616.6 241.88 L617.1 241.63 L617.6 241.39 L618.1 241.15 L618.6 240.91 L619.1 240.68 L619.6 240.45 L620.1 240.22 L620.6 239.99 L621.1 239.77 L621.6 239.55 L622.1 239.33 L622.6 239.12 L623.1 238.91 L623.6 238.7 L624.1 238.49 L624.6 238.28 L625.1 238.08 L625.6 237.88 L626.1 237.69 L626.6 237.5 L627.1 237.3 L627.6 237.12 L628.1 236.93 L628.6 236.75 L629.1 236.57 L629.6 236.39 L630.1 236.22 L630.6 236.05 L631.1 235.88 L631.6 235.71 L632.1 235.55 L632.6 235.39 L633.1 235.23 L633.6 235.08 L634.1 234.93 L634.6 234.78 L635.1 234.63 L635.6 234.49 L636.1 234.34 L636.6 234.2 L637.1 234.06 L637.6 233.92 L638.1 233.78 L638.6 233.65 L639.1 233.51 L639.6 233.38 L640.1 233.25 L640.6 233.12 L641.1 232.99 L641.6 232.87 L642.1 232.74 L642.6 232.62 L643.1 232.5 L643.6 232.38 L644.1 232.27 L644.6 232.15 L645.1 232.04 L645.6 231.93 L646.1 231.82 L646.6 231.72 L647.1 231.61 L647.6 231.51 L648.1 231.41 L648.6 231.31 L649.1 231.22 L649.6 231.13 L650.1 231.04 L650.6 230.95 L651.1 230.86 L651.6 230.77 L652.1 230.68 L652.6 230.6 L653.1 230.51 L653.6 230.43 L654.1 230.35 L654.6 230.27 L655.1 230.19 L655.6 230.11 L656.1 230.04 L656.6 229.97 L657.1 229.91 L657.6 229.84 L658.1 229.79 L658.6 229.73 L659.1 229.68 L659.6 229.63 L660.1 229.59 L660.6 229.55 L661.1 229.51 L661.6 229.47 L662.1 229.43 L662.6 229.39 L663.1 229.36 L663.6 229.32 L664.1 229.29 L664.6 229.27 L665.1 229.24 L665.6 229.22 L666.1 229.21 L666.6 229.2 L667.1 229.2 L667.6 229.2 L668.1 229.2 L668.6 229.2 L669.1 229.2 L669.6 229.2 L670.1 229.2 L670.6 229.2 L671.1 229.2 L671.6 229.2 L672.1 229.2 L672.6 229.2 L673.1 229.2 L673.6 229.2 L674.1 229.2 L674.2 229.2" fill="none" stroke="#000" stroke-width="2.2" stroke-linejoin="round" stroke-linecap="round"/>
<text x="580.21" y="253.3" font-size="14.6" fill="#000" stroke="#000" stroke-width="0.5" stroke-linejoin="round">O</text>
<text x="595.2" y="316.4" font-size="14.6" fill="#000" stroke="#000" stroke-width="0.5" stroke-linejoin="round">R</text>
<text x="606.17" y="321.2" font-size="8.6" fill="#000" stroke="#000" stroke-width="0.5" stroke-linejoin="round">2</text>
<text x="548.7" y="355" font-size="14.6" fill="#000" stroke="#000" stroke-width="0.5" stroke-linejoin="round">R</text>
<mask id="m18" maskUnits="userSpaceOnUse" x="0" y="0" width="685" height="419"><rect width="685" height="419" fill="#fff"/><g fill="#000"><rect x="560.05" y="358.89" width="1.62" height="2.66"/><rect x="562.76" y="358.89" width="1.53" height="2.66"/></g></mask>
<text x="559.67" y="359.9" font-size="8.6" fill="#000" stroke="#000" stroke-width="0.5" stroke-linejoin="round" mask="url(#m18)">1</text>
<text x="651.3" y="266.2" font-size="14.6" fill="#000" stroke="#000" stroke-width="0.5" stroke-linejoin="round">R</text>
<text x="662.67" y="271.2" font-size="8.6" fill="#000" stroke="#000" stroke-width="0.5" stroke-linejoin="round">3</text>
</g>
</svg>
</body></html>
